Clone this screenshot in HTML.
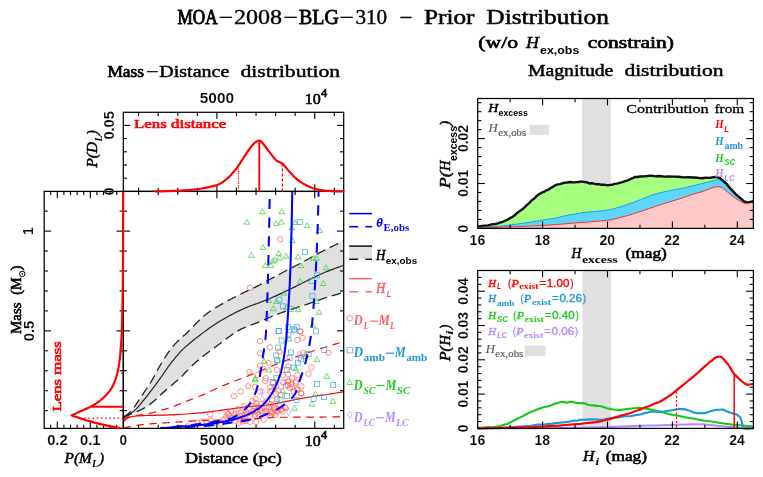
<!DOCTYPE html>
<html><head><meta charset="utf-8"><title>MOA-2008-BLG-310 Prior Distribution</title>
<style>html,body{margin:0;padding:0;background:#fff;}svg{display:block;}text{white-space:pre;}</style></head>
<body><svg width="763" height="477" viewBox="0 0 763 477" style="will-change:transform;opacity:0.9999">
<rect width="763" height="477" fill="#fff"/>
<rect x="582.2" y="98.5" width="28.6" height="129.9" fill="#e0e0e0"/>
<rect x="582.4" y="270.5" width="28.6" height="157.89999999999998" fill="#e0e0e0"/>
<clipPath id="cmp"><rect x="123.3" y="191.4" width="220.4" height="237.0"/></clipPath>
<g clip-path="url(#cmp)">
<path d="M123.50,417.00 L123.94,416.68 L124.55,416.26 L125.26,415.75 L126.06,415.19 L126.88,414.60 L127.69,414.01 L128.44,413.43 L129.10,412.90 L129.65,412.44 L130.13,412.05 L130.57,411.68 L130.99,411.31 L131.42,410.89 L131.88,410.39 L132.40,409.77 L133.00,409.00 L133.69,408.06 L134.44,406.96 L135.25,405.75 L136.09,404.46 L136.95,403.13 L137.81,401.78 L138.67,400.46 L139.50,399.20 L140.31,397.99 L141.12,396.78 L141.94,395.57 L142.75,394.37 L143.56,393.16 L144.38,391.95 L145.19,390.73 L146.00,389.50 L146.82,388.26 L147.65,387.00 L148.49,385.73 L149.33,384.46 L150.15,383.19 L150.96,381.92 L151.74,380.66 L152.50,379.40 L153.20,378.17 L153.85,376.98 L154.47,375.81 L155.07,374.63 L155.68,373.43 L156.33,372.19 L157.03,370.88 L157.80,369.50 L158.66,368.01 L159.57,366.41 L160.54,364.75 L161.54,363.05 L162.57,361.34 L163.59,359.66 L164.61,358.04 L165.60,356.50 L166.57,355.04 L167.52,353.62 L168.48,352.24 L169.43,350.89 L170.39,349.57 L171.37,348.29 L172.37,347.03 L173.40,345.80 L174.49,344.57 L175.66,343.34 L176.87,342.13 L178.09,340.95 L179.27,339.83 L180.39,338.78 L181.41,337.83 L182.30,337.00 L183.01,336.34 L183.57,335.85 L184.01,335.48 L184.40,335.17 L184.77,334.87 L185.18,334.53 L185.68,334.09 L186.30,333.50 L187.04,332.77 L187.84,331.95 L188.69,331.07 L189.59,330.12 L190.54,329.13 L191.53,328.11 L192.55,327.06 L193.60,326.00 L194.69,324.89 L195.84,323.72 L197.04,322.50 L198.27,321.25 L199.52,320.00 L200.78,318.78 L202.05,317.61 L203.30,316.50 L204.54,315.46 L205.78,314.47 L207.03,313.51 L208.28,312.57 L209.55,311.67 L210.84,310.77 L212.15,309.89 L213.50,309.00 L214.89,308.12 L216.33,307.24 L217.81,306.38 L219.30,305.52 L220.79,304.69 L222.27,303.87 L223.71,303.07 L225.10,302.30 L226.44,301.55 L227.74,300.83 L229.01,300.14 L230.27,299.46 L231.51,298.79 L232.76,298.13 L234.02,297.46 L235.30,296.80 L236.59,296.14 L237.86,295.49 L239.14,294.85 L240.43,294.22 L241.72,293.58 L243.05,292.94 L244.40,292.28 L245.80,291.60 L247.24,290.91 L248.71,290.22 L250.22,289.52 L251.74,288.81 L253.29,288.09 L254.85,287.35 L256.43,286.59 L258.00,285.80 L259.59,284.98 L261.19,284.13 L262.82,283.26 L264.45,282.38 L266.09,281.48 L267.73,280.58 L269.37,279.68 L271.00,278.80 L272.59,277.94 L274.14,277.10 L275.66,276.28 L277.19,275.44 L278.77,274.59 L280.41,273.71 L282.14,272.79 L284.00,271.80 L285.98,270.76 L288.06,269.69 L290.22,268.58 L292.45,267.43 L294.75,266.25 L297.09,265.03 L299.48,263.78 L301.90,262.50 L304.38,261.16 L306.94,259.74 L309.56,258.28 L312.22,256.79 L314.90,255.30 L317.59,253.82 L320.26,252.38 L322.90,251.00 L325.65,249.61 L328.60,248.16 L331.63,246.70 L334.61,245.28 L337.43,243.95 L339.97,242.76 L342.10,241.76 L343.70,241.00 L343.70,292.40 L342.23,292.83 L340.25,293.42 L337.89,294.11 L335.29,294.88 L332.56,295.68 L329.85,296.50 L327.29,297.28 L325.00,298.00 L322.93,298.68 L320.94,299.35 L319.02,300.02 L317.14,300.68 L315.32,301.33 L313.52,301.97 L311.75,302.60 L310.00,303.20 L308.28,303.78 L306.61,304.34 L304.98,304.88 L303.38,305.41 L301.79,305.93 L300.20,306.45 L298.61,306.97 L297.00,307.50 L295.38,308.03 L293.75,308.56 L292.12,309.08 L290.50,309.61 L288.88,310.14 L287.25,310.68 L285.62,311.23 L284.00,311.80 L282.36,312.39 L280.70,313.01 L279.04,313.64 L277.38,314.27 L275.73,314.92 L274.11,315.55 L272.53,316.18 L271.00,316.80 L269.51,317.41 L268.03,318.03 L266.58,318.65 L265.17,319.27 L263.80,319.87 L262.47,320.44 L261.20,320.99 L260.00,321.50 L258.88,321.96 L257.86,322.39 L256.90,322.78 L255.99,323.14 L255.09,323.50 L254.20,323.86 L253.27,324.22 L252.30,324.60 L251.28,324.99 L250.22,325.38 L249.15,325.77 L248.08,326.16 L247.00,326.55 L245.94,326.96 L244.90,327.37 L243.90,327.80 L242.93,328.24 L241.99,328.68 L241.07,329.14 L240.16,329.60 L239.27,330.08 L238.38,330.57 L237.49,331.07 L236.60,331.60 L235.72,332.15 L234.85,332.71 L233.98,333.28 L233.12,333.88 L232.26,334.48 L231.39,335.11 L230.51,335.75 L229.60,336.40 L228.66,337.09 L227.67,337.82 L226.66,338.58 L225.65,339.35 L224.65,340.11 L223.68,340.85 L222.76,341.55 L221.90,342.20 L221.15,342.76 L220.51,343.24 L219.94,343.66 L219.38,344.07 L218.80,344.49 L218.16,344.97 L217.41,345.53 L216.50,346.20 L215.42,347.00 L214.21,347.89 L212.90,348.85 L211.51,349.88 L210.09,350.93 L208.66,352.00 L207.25,353.06 L205.90,354.10 L204.59,355.11 L203.29,356.12 L201.99,357.13 L200.69,358.15 L199.39,359.19 L198.10,360.25 L196.80,361.36 L195.50,362.50 L194.16,363.74 L192.75,365.08 L191.32,366.49 L189.90,367.91 L188.53,369.29 L187.25,370.60 L186.09,371.79 L185.10,372.80 L184.33,373.60 L183.77,374.21 L183.36,374.70 L183.02,375.11 L182.69,375.49 L182.31,375.92 L181.80,376.44 L181.10,377.10 L180.21,377.91 L179.18,378.80 L178.06,379.77 L176.87,380.78 L175.64,381.82 L174.39,382.87 L173.17,383.90 L172.00,384.90 L170.86,385.87 L169.72,386.83 L168.59,387.79 L167.45,388.76 L166.31,389.72 L165.18,390.70 L164.04,391.69 L162.90,392.70 L161.75,393.75 L160.59,394.84 L159.43,395.95 L158.27,397.07 L157.12,398.18 L155.98,399.25 L154.88,400.26 L153.80,401.20 L152.77,402.06 L151.79,402.87 L150.84,403.63 L149.90,404.34 L148.96,405.03 L148.01,405.70 L147.03,406.35 L146.00,407.00 L144.91,407.65 L143.76,408.28 L142.57,408.90 L141.37,409.50 L140.18,410.07 L139.02,410.62 L137.92,411.13 L136.90,411.60 L135.97,412.02 L135.10,412.37 L134.29,412.69 L133.51,412.97 L132.75,413.25 L131.99,413.54 L131.21,413.85 L130.40,414.20 L129.51,414.61 L128.54,415.07 L127.54,415.57 L126.54,416.06 L125.60,416.54 L124.75,416.97 L124.04,417.33 L123.50,417.60Z" fill="#e0e0e0" stroke="none" stroke-width="1.3" stroke-linejoin="round" stroke-linecap="butt" />
<path d="M123.50,417.00 L123.94,416.68 L124.55,416.26 L125.26,415.75 L126.06,415.19 L126.88,414.60 L127.69,414.01 L128.44,413.43 L129.10,412.90 L129.65,412.44 L130.13,412.05 L130.57,411.68 L130.99,411.31 L131.42,410.89 L131.88,410.39 L132.40,409.77 L133.00,409.00 L133.69,408.06 L134.44,406.96 L135.25,405.75 L136.09,404.46 L136.95,403.13 L137.81,401.78 L138.67,400.46 L139.50,399.20 L140.31,397.99 L141.12,396.78 L141.94,395.57 L142.75,394.37 L143.56,393.16 L144.38,391.95 L145.19,390.73 L146.00,389.50 L146.82,388.26 L147.65,387.00 L148.49,385.73 L149.33,384.46 L150.15,383.19 L150.96,381.92 L151.74,380.66 L152.50,379.40 L153.20,378.17 L153.85,376.98 L154.47,375.81 L155.07,374.63 L155.68,373.43 L156.33,372.19 L157.03,370.88 L157.80,369.50 L158.66,368.01 L159.57,366.41 L160.54,364.75 L161.54,363.05 L162.57,361.34 L163.59,359.66 L164.61,358.04 L165.60,356.50 L166.57,355.04 L167.52,353.62 L168.48,352.24 L169.43,350.89 L170.39,349.57 L171.37,348.29 L172.37,347.03 L173.40,345.80 L174.49,344.57 L175.66,343.34 L176.87,342.13 L178.09,340.95 L179.27,339.83 L180.39,338.78 L181.41,337.83 L182.30,337.00 L183.01,336.34 L183.57,335.85 L184.01,335.48 L184.40,335.17 L184.77,334.87 L185.18,334.53 L185.68,334.09 L186.30,333.50 L187.04,332.77 L187.84,331.95 L188.69,331.07 L189.59,330.12 L190.54,329.13 L191.53,328.11 L192.55,327.06 L193.60,326.00 L194.69,324.89 L195.84,323.72 L197.04,322.50 L198.27,321.25 L199.52,320.00 L200.78,318.78 L202.05,317.61 L203.30,316.50 L204.54,315.46 L205.78,314.47 L207.03,313.51 L208.28,312.57 L209.55,311.67 L210.84,310.77 L212.15,309.89 L213.50,309.00 L214.89,308.12 L216.33,307.24 L217.81,306.38 L219.30,305.52 L220.79,304.69 L222.27,303.87 L223.71,303.07 L225.10,302.30 L226.44,301.55 L227.74,300.83 L229.01,300.14 L230.27,299.46 L231.51,298.79 L232.76,298.13 L234.02,297.46 L235.30,296.80 L236.59,296.14 L237.86,295.49 L239.14,294.85 L240.43,294.22 L241.72,293.58 L243.05,292.94 L244.40,292.28 L245.80,291.60 L247.24,290.91 L248.71,290.22 L250.22,289.52 L251.74,288.81 L253.29,288.09 L254.85,287.35 L256.43,286.59 L258.00,285.80 L259.59,284.98 L261.19,284.13 L262.82,283.26 L264.45,282.38 L266.09,281.48 L267.73,280.58 L269.37,279.68 L271.00,278.80 L272.59,277.94 L274.14,277.10 L275.66,276.28 L277.19,275.44 L278.77,274.59 L280.41,273.71 L282.14,272.79 L284.00,271.80 L285.98,270.76 L288.06,269.69 L290.22,268.58 L292.45,267.43 L294.75,266.25 L297.09,265.03 L299.48,263.78 L301.90,262.50 L304.38,261.16 L306.94,259.74 L309.56,258.28 L312.22,256.79 L314.90,255.30 L317.59,253.82 L320.26,252.38 L322.90,251.00 L325.65,249.61 L328.60,248.16 L331.63,246.70 L334.61,245.28 L337.43,243.95 L339.97,242.76 L342.10,241.76 L343.70,241.00" fill="none" stroke="#222" stroke-width="1.3" stroke-linejoin="round" stroke-linecap="butt" stroke-dasharray="9.4 5" />
<path d="M123.50,417.60 L124.04,417.33 L124.75,416.97 L125.60,416.54 L126.54,416.06 L127.54,415.57 L128.54,415.07 L129.51,414.61 L130.40,414.20 L131.21,413.85 L131.99,413.54 L132.75,413.25 L133.51,412.97 L134.29,412.69 L135.10,412.37 L135.97,412.02 L136.90,411.60 L137.92,411.13 L139.02,410.62 L140.18,410.07 L141.37,409.50 L142.57,408.90 L143.76,408.28 L144.91,407.65 L146.00,407.00 L147.03,406.35 L148.01,405.70 L148.96,405.03 L149.90,404.34 L150.84,403.63 L151.79,402.87 L152.77,402.06 L153.80,401.20 L154.88,400.26 L155.98,399.25 L157.12,398.18 L158.27,397.07 L159.43,395.95 L160.59,394.84 L161.75,393.75 L162.90,392.70 L164.04,391.69 L165.18,390.70 L166.31,389.72 L167.45,388.76 L168.59,387.79 L169.72,386.83 L170.86,385.87 L172.00,384.90 L173.17,383.90 L174.39,382.87 L175.64,381.82 L176.87,380.78 L178.06,379.77 L179.18,378.80 L180.21,377.91 L181.10,377.10 L181.80,376.44 L182.31,375.92 L182.69,375.49 L183.02,375.11 L183.36,374.70 L183.77,374.21 L184.33,373.60 L185.10,372.80 L186.09,371.79 L187.25,370.60 L188.53,369.29 L189.90,367.91 L191.32,366.49 L192.75,365.08 L194.16,363.74 L195.50,362.50 L196.80,361.36 L198.10,360.25 L199.39,359.19 L200.69,358.15 L201.99,357.13 L203.29,356.12 L204.59,355.11 L205.90,354.10 L207.25,353.06 L208.66,352.00 L210.09,350.93 L211.51,349.88 L212.90,348.85 L214.21,347.89 L215.42,347.00 L216.50,346.20 L217.41,345.53 L218.16,344.97 L218.80,344.49 L219.38,344.07 L219.94,343.66 L220.51,343.24 L221.15,342.76 L221.90,342.20 L222.76,341.55 L223.68,340.85 L224.65,340.11 L225.65,339.35 L226.66,338.58 L227.67,337.82 L228.66,337.09 L229.60,336.40 L230.51,335.75 L231.39,335.11 L232.26,334.48 L233.12,333.88 L233.98,333.28 L234.85,332.71 L235.72,332.15 L236.60,331.60 L237.49,331.07 L238.38,330.57 L239.27,330.08 L240.16,329.60 L241.07,329.14 L241.99,328.68 L242.93,328.24 L243.90,327.80 L244.90,327.37 L245.94,326.96 L247.00,326.55 L248.08,326.16 L249.15,325.77 L250.22,325.38 L251.28,324.99 L252.30,324.60 L253.27,324.22 L254.20,323.86 L255.09,323.50 L255.99,323.14 L256.90,322.78 L257.86,322.39 L258.88,321.96 L260.00,321.50 L261.20,320.99 L262.47,320.44 L263.80,319.87 L265.17,319.27 L266.58,318.65 L268.03,318.03 L269.51,317.41 L271.00,316.80 L272.53,316.18 L274.11,315.55 L275.73,314.92 L277.38,314.27 L279.04,313.64 L280.70,313.01 L282.36,312.39 L284.00,311.80 L285.62,311.23 L287.25,310.68 L288.88,310.14 L290.50,309.61 L292.12,309.08 L293.75,308.56 L295.38,308.03 L297.00,307.50 L298.61,306.97 L300.20,306.45 L301.79,305.93 L303.38,305.41 L304.98,304.88 L306.61,304.34 L308.28,303.78 L310.00,303.20 L311.75,302.60 L313.52,301.97 L315.32,301.33 L317.14,300.68 L319.02,300.02 L320.94,299.35 L322.93,298.68 L325.00,298.00 L327.29,297.28 L329.85,296.50 L332.56,295.68 L335.29,294.88 L337.89,294.11 L340.25,293.42 L342.23,292.83 L343.70,292.40" fill="none" stroke="#222" stroke-width="1.3" stroke-linejoin="round" stroke-linecap="butt" stroke-dasharray="9.4 5" />
<path d="M123.50,417.40 L123.93,417.16 L124.49,416.86 L125.15,416.50 L125.89,416.09 L126.69,415.64 L127.51,415.17 L128.32,414.69 L129.10,414.20 L129.86,413.72 L130.63,413.25 L131.41,412.78 L132.21,412.27 L133.03,411.72 L133.86,411.10 L134.72,410.40 L135.60,409.60 L136.51,408.68 L137.46,407.66 L138.43,406.55 L139.42,405.38 L140.42,404.17 L141.42,402.94 L142.42,401.71 L143.40,400.50 L144.37,399.32 L145.32,398.14 L146.26,396.96 L147.21,395.76 L148.17,394.54 L149.15,393.28 L150.16,391.97 L151.20,390.60 L152.28,389.17 L153.40,387.67 L154.55,386.12 L155.72,384.54 L156.90,382.94 L158.07,381.32 L159.25,379.70 L160.40,378.10 L161.53,376.50 L162.65,374.88 L163.76,373.25 L164.88,371.62 L166.00,369.98 L167.14,368.35 L168.30,366.72 L169.50,365.10 L170.76,363.45 L172.09,361.74 L173.45,360.02 L174.83,358.31 L176.18,356.64 L177.50,355.07 L178.75,353.61 L179.90,352.30 L180.93,351.17 L181.87,350.21 L182.73,349.36 L183.56,348.60 L184.37,347.88 L185.19,347.17 L186.06,346.42 L187.00,345.60 L188.00,344.73 L189.02,343.85 L190.07,342.97 L191.14,342.08 L192.24,341.18 L193.36,340.27 L194.52,339.34 L195.70,338.40 L196.93,337.43 L198.20,336.44 L199.51,335.42 L200.84,334.40 L202.18,333.38 L203.53,332.36 L204.88,331.37 L206.20,330.40 L207.51,329.45 L208.82,328.52 L210.14,327.60 L211.45,326.69 L212.76,325.79 L214.07,324.91 L215.39,324.05 L216.70,323.20 L218.01,322.37 L219.32,321.56 L220.64,320.77 L221.95,319.99 L223.26,319.23 L224.57,318.48 L225.89,317.73 L227.20,317.00 L228.51,316.27 L229.83,315.56 L231.14,314.85 L232.46,314.16 L233.77,313.47 L235.08,312.80 L236.39,312.14 L237.70,311.50 L239.01,310.87 L240.32,310.24 L241.63,309.63 L242.94,309.03 L244.24,308.45 L245.54,307.88 L246.82,307.33 L248.10,306.80 L249.34,306.31 L250.54,305.86 L251.71,305.44 L252.89,305.03 L254.08,304.62 L255.32,304.19 L256.62,303.72 L258.00,303.20 L259.48,302.63 L261.03,302.03 L262.65,301.40 L264.31,300.74 L265.99,300.07 L267.68,299.39 L269.35,298.69 L271.00,298.00 L272.62,297.30 L274.25,296.58 L275.88,295.86 L277.50,295.12 L279.12,294.37 L280.75,293.62 L282.38,292.86 L284.00,292.10 L285.62,291.33 L287.25,290.56 L288.88,289.78 L290.50,288.99 L292.12,288.19 L293.75,287.40 L295.38,286.60 L297.00,285.80 L298.61,285.00 L300.20,284.20 L301.79,283.40 L303.38,282.59 L304.98,281.78 L306.61,280.96 L308.28,280.14 L310.00,279.30 L311.75,278.45 L313.52,277.59 L315.32,276.72 L317.14,275.84 L319.02,274.95 L320.94,274.07 L322.93,273.18 L325.00,272.30 L327.29,271.37 L329.85,270.37 L332.56,269.33 L335.29,268.31 L337.89,267.35 L340.25,266.48 L342.23,265.75 L343.70,265.20" fill="none" stroke="#222" stroke-width="1.2" stroke-linejoin="round" stroke-linecap="butt" />
<path d="M123.50,419.60 L123.81,419.41 L124.19,419.15 L124.64,418.85 L125.16,418.51 L125.74,418.15 L126.38,417.81 L127.07,417.48 L127.80,417.20 L128.59,416.95 L129.44,416.72 L130.35,416.49 L131.32,416.28 L132.33,416.08 L133.39,415.88 L134.48,415.69 L135.60,415.50 L136.76,415.33 L137.96,415.19 L139.20,415.07 L140.48,414.95 L141.80,414.82 L143.16,414.66 L144.56,414.46 L146.00,414.20 L147.50,413.89 L149.07,413.53 L150.68,413.14 L152.34,412.71 L154.01,412.27 L155.69,411.81 L157.36,411.35 L159.00,410.90 L160.62,410.45 L162.25,410.00 L163.88,409.54 L165.50,409.07 L167.12,408.58 L168.75,408.08 L170.38,407.55 L172.00,407.00 L173.61,406.42 L175.20,405.81 L176.79,405.17 L178.38,404.52 L179.98,403.85 L181.61,403.17 L183.28,402.49 L185.00,401.80 L186.71,401.14 L188.38,400.52 L190.05,399.90 L191.76,399.27 L193.57,398.59 L195.51,397.84 L197.64,396.98 L200.00,396.00 L202.62,394.86 L205.48,393.57 L208.52,392.18 L211.70,390.72 L214.97,389.22 L218.27,387.73 L221.57,386.28 L224.80,384.90 L228.04,383.58 L231.38,382.27 L234.76,380.98 L238.14,379.71 L241.50,378.45 L244.79,377.21 L247.97,375.99 L251.00,374.80 L253.87,373.63 L256.60,372.49 L259.22,371.37 L261.77,370.27 L264.29,369.18 L266.79,368.11 L269.32,367.05 L271.90,366.00 L274.52,364.96 L277.14,363.93 L279.77,362.91 L282.39,361.91 L285.02,360.91 L287.65,359.93 L290.27,358.96 L292.90,358.00 L295.46,357.07 L297.94,356.17 L300.39,355.29 L302.85,354.42 L305.38,353.55 L308.03,352.64 L310.85,351.70 L313.90,350.70 L317.41,349.58 L321.43,348.32 L325.74,346.98 L330.11,345.64 L334.32,344.36 L338.14,343.20 L341.34,342.22 L343.70,341.50" fill="none" stroke="#ff0000" stroke-width="1.2" stroke-linejoin="round" stroke-linecap="butt" stroke-dasharray="7.5 5.6" />
<path d="M123.50,428.20 L123.75,428.13 L124.07,428.05 L124.45,427.95 L124.88,427.84 L125.35,427.71 L125.87,427.58 L126.42,427.44 L127.00,427.30 L127.58,427.15 L128.16,426.99 L128.76,426.82 L129.41,426.65 L130.13,426.47 L130.95,426.28 L131.90,426.09 L133.00,425.90 L134.29,425.70 L135.76,425.48 L137.36,425.25 L139.06,425.02 L140.82,424.79 L142.59,424.58 L144.33,424.38 L146.00,424.20 L147.62,424.05 L149.25,423.92 L150.88,423.80 L152.50,423.70 L154.12,423.60 L155.75,423.51 L157.38,423.41 L159.00,423.30 L160.62,423.19 L162.25,423.07 L163.88,422.96 L165.50,422.84 L167.12,422.73 L168.75,422.62 L170.38,422.51 L172.00,422.40 L173.61,422.30 L175.20,422.20 L176.79,422.11 L178.38,422.01 L179.98,421.92 L181.61,421.82 L183.28,421.71 L185.00,421.60 L186.71,421.47 L188.38,421.33 L190.05,421.19 L191.76,421.04 L193.57,420.89 L195.51,420.75 L197.64,420.62 L200.00,420.50 L202.62,420.40 L205.48,420.32 L208.52,420.26 L211.70,420.19 L214.97,420.13 L218.27,420.07 L221.57,419.99 L224.80,419.90 L228.04,419.80 L231.38,419.69 L234.76,419.57 L238.14,419.45 L241.50,419.32 L244.79,419.19 L247.97,419.05 L251.00,418.90 L253.87,418.74 L256.60,418.55 L259.22,418.36 L261.77,418.16 L264.29,417.96 L266.79,417.78 L269.32,417.63 L271.90,417.50 L274.52,417.41 L277.14,417.34 L279.77,417.30 L282.39,417.27 L285.02,417.25 L287.65,417.24 L290.27,417.22 L292.90,417.20 L295.46,417.18 L297.94,417.16 L300.39,417.15 L302.85,417.14 L305.38,417.14 L308.03,417.13 L310.85,417.12 L313.90,417.10 L317.41,417.08 L321.43,417.05 L325.74,417.02 L330.11,416.99 L334.32,416.96 L338.14,416.94 L341.34,416.92 L343.70,416.90" fill="none" stroke="#ff0000" stroke-width="1.2" stroke-linejoin="round" stroke-linecap="butt" stroke-dasharray="7.5 5.6" />
<path d="M123.50,422.00 L123.65,421.83 L123.85,421.59 L124.09,421.31 L124.36,421.01 L124.64,420.69 L124.93,420.37 L125.22,420.07 L125.50,419.80 L125.75,419.56 L125.99,419.34 L126.21,419.13 L126.45,418.92 L126.71,418.72 L127.01,418.51 L127.37,418.31 L127.80,418.10 L128.26,417.88 L128.71,417.66 L129.19,417.43 L129.73,417.20 L130.35,416.98 L131.08,416.77 L131.96,416.57 L133.00,416.40 L134.16,416.25 L135.40,416.11 L136.73,416.00 L138.20,415.89 L139.83,415.79 L141.65,415.69 L143.70,415.60 L146.00,415.50 L148.61,415.41 L151.54,415.34 L154.71,415.28 L158.06,415.21 L161.53,415.14 L165.05,415.05 L168.57,414.94 L172.00,414.80 L175.43,414.63 L178.93,414.44 L182.49,414.23 L186.08,414.00 L189.65,413.75 L193.18,413.49 L196.64,413.20 L200.00,412.90 L203.28,412.57 L206.51,412.20 L209.70,411.82 L212.84,411.41 L215.92,411.00 L218.94,410.59 L221.90,410.19 L224.80,409.80 L227.58,409.42 L230.24,409.05 L232.81,408.67 L235.34,408.30 L237.86,407.93 L240.41,407.58 L243.05,407.23 L245.80,406.90 L248.66,406.60 L251.58,406.35 L254.55,406.12 L257.58,405.89 L260.64,405.65 L263.73,405.36 L266.86,405.02 L270.00,404.60 L273.23,404.08 L276.58,403.46 L280.00,402.77 L283.43,402.06 L286.82,401.33 L290.12,400.63 L293.26,399.97 L296.20,399.40 L298.85,398.91 L301.21,398.49 L303.40,398.10 L305.50,397.74 L307.62,397.39 L309.86,397.03 L312.32,396.64 L315.10,396.20 L318.41,395.69 L322.24,395.10 L326.37,394.48 L330.58,393.85 L334.64,393.25 L338.33,392.70 L341.43,392.24 L343.70,391.90" fill="none" stroke="#ff0000" stroke-width="1.2" stroke-linejoin="round" stroke-linecap="butt" />
</g>
<g clip-path="url(#cmp)">
<path d="M262.5,208.8 L265.3,213.7 L259.6,213.7Z" fill="none" stroke="#2fce2f" stroke-width="0.7"/>
<path d="M281.8,208.8 L284.6,213.7 L278.9,213.7Z" fill="none" stroke="#2fce2f" stroke-width="0.7"/>
<path d="M246.8,219.3 L249.6,224.2 L243.9,224.2Z" fill="none" stroke="#2fce2f" stroke-width="0.7"/>
<path d="M276.1,220.8 L279.0,225.6 L273.3,225.6Z" fill="none" stroke="#2fce2f" stroke-width="0.7"/>
<path d="M281.4,219.3 L284.2,224.2 L278.5,224.2Z" fill="none" stroke="#2fce2f" stroke-width="0.7"/>
<path d="M295.0,219.7 L297.8,224.6 L292.1,224.6Z" fill="none" stroke="#2fce2f" stroke-width="0.7"/>
<path d="M291.8,225.0 L294.7,229.8 L289.0,229.8Z" fill="none" stroke="#2fce2f" stroke-width="0.7"/>
<path d="M307.1,222.9 L310.0,227.7 L304.3,227.7Z" fill="none" stroke="#2fce2f" stroke-width="0.7"/>
<path d="M319.7,227.7 L322.6,232.6 L316.9,232.6Z" fill="none" stroke="#2fce2f" stroke-width="0.7"/>
<path d="M262.9,244.6 L265.8,249.4 L260.1,249.4Z" fill="none" stroke="#2fce2f" stroke-width="0.7"/>
<path d="M292.3,237.9 L295.1,242.7 L289.4,242.7Z" fill="none" stroke="#2fce2f" stroke-width="0.7"/>
<path d="M251.4,252.5 L254.2,257.4 L248.5,257.4Z" fill="none" stroke="#2fce2f" stroke-width="0.7"/>
<path d="M278.6,250.4 L281.5,255.3 L275.8,255.3Z" fill="none" stroke="#2fce2f" stroke-width="0.7"/>
<path d="M273.0,258.2 L275.8,263.1 L270.1,263.1Z" fill="none" stroke="#2fce2f" stroke-width="0.7"/>
<path d="M275.1,257.2 L277.9,262.0 L272.2,262.0Z" fill="none" stroke="#2fce2f" stroke-width="0.7"/>
<path d="M279.7,255.1 L282.5,259.9 L276.8,259.9Z" fill="none" stroke="#2fce2f" stroke-width="0.7"/>
<path d="M286.0,253.4 L288.8,258.2 L283.1,258.2Z" fill="none" stroke="#2fce2f" stroke-width="0.7"/>
<path d="M298.1,254.0 L301.0,258.9 L295.3,258.9Z" fill="none" stroke="#2fce2f" stroke-width="0.7"/>
<path d="M313.4,255.5 L316.3,260.3 L310.6,260.3Z" fill="none" stroke="#2fce2f" stroke-width="0.7"/>
<path d="M316.4,255.5 L319.2,260.3 L313.5,260.3Z" fill="none" stroke="#2fce2f" stroke-width="0.7"/>
<path d="M265.2,262.8 L268.1,267.7 L262.4,267.7Z" fill="none" stroke="#2fce2f" stroke-width="0.7"/>
<path d="M270.9,262.8 L273.7,267.7 L268.0,267.7Z" fill="none" stroke="#2fce2f" stroke-width="0.7"/>
<path d="M300.9,262.8 L303.7,267.7 L298.0,267.7Z" fill="none" stroke="#2fce2f" stroke-width="0.7"/>
<path d="M326.0,264.9 L328.9,269.8 L323.2,269.8Z" fill="none" stroke="#2fce2f" stroke-width="0.7"/>
<path d="M300.2,278.5 L303.1,283.4 L297.4,283.4Z" fill="none" stroke="#2fce2f" stroke-width="0.7"/>
<path d="M323.3,280.6 L326.1,285.5 L320.4,285.5Z" fill="none" stroke="#2fce2f" stroke-width="0.7"/>
<path d="M284.1,290.3 L286.9,295.1 L281.2,295.1Z" fill="none" stroke="#2fce2f" stroke-width="0.7"/>
<path d="M268.8,297.4 L271.6,302.3 L265.9,302.3Z" fill="none" stroke="#2fce2f" stroke-width="0.7"/>
<path d="M276.5,298.7 L279.4,303.5 L273.7,303.5Z" fill="none" stroke="#2fce2f" stroke-width="0.7"/>
<path d="M273.4,305.8 L276.2,310.7 L270.5,310.7Z" fill="none" stroke="#2fce2f" stroke-width="0.7"/>
<path d="M286.6,304.3 L289.5,309.2 L283.8,309.2Z" fill="none" stroke="#2fce2f" stroke-width="0.7"/>
<path d="M298.1,306.8 L301.0,311.7 L295.3,311.7Z" fill="none" stroke="#2fce2f" stroke-width="0.7"/>
<path d="M316.6,298.7 L319.4,303.5 L313.7,303.5Z" fill="none" stroke="#2fce2f" stroke-width="0.7"/>
<path d="M319.1,309.6 L321.9,314.4 L316.2,314.4Z" fill="none" stroke="#2fce2f" stroke-width="0.7"/>
<path d="M312.8,322.6 L315.7,327.4 L310.0,327.4Z" fill="none" stroke="#2fce2f" stroke-width="0.7"/>
<path d="M305.5,351.9 L308.3,356.8 L302.6,356.8Z" fill="none" stroke="#2fce2f" stroke-width="0.7"/>
<path d="M317.0,356.7 L319.9,361.6 L314.2,361.6Z" fill="none" stroke="#2fce2f" stroke-width="0.7"/>
<path d="M326.9,373.5 L329.7,378.4 L324.0,378.4Z" fill="none" stroke="#2fce2f" stroke-width="0.7"/>
<path d="M289.2,336.2 L292.0,341.1 L286.3,341.1Z" fill="none" stroke="#2fce2f" stroke-width="0.7"/>
<path d="M264.3,358.4 L267.2,363.3 L261.5,363.3Z" fill="none" stroke="#2fce2f" stroke-width="0.7"/>
<path d="M277.9,357.4 L280.8,362.3 L275.1,362.3Z" fill="none" stroke="#2fce2f" stroke-width="0.7"/>
<path d="M269.0,367.1 L271.9,372.0 L266.2,372.0Z" fill="none" stroke="#2fce2f" stroke-width="0.7"/>
<path d="M295.8,366.0 L298.6,370.9 L292.9,370.9Z" fill="none" stroke="#2fce2f" stroke-width="0.7"/>
<path d="M255.4,375.7 L258.2,380.6 L252.5,380.6Z" fill="none" stroke="#2fce2f" stroke-width="0.7"/>
<path d="M304.1,353.7 L307.0,358.6 L301.3,358.6Z" fill="none" stroke="#2fce2f" stroke-width="0.7"/>
<path d="M282.8,388.0 L285.6,392.9 L279.9,392.9Z" fill="none" stroke="#2fce2f" stroke-width="0.7"/>
<path d="M315.6,391.2 L318.4,396.0 L312.7,396.0Z" fill="none" stroke="#2fce2f" stroke-width="0.7"/>
<path d="M311.9,401.1 L314.8,406.0 L309.1,406.0Z" fill="none" stroke="#2fce2f" stroke-width="0.7"/>
<path d="M332.9,398.5 L335.7,403.3 L330.0,403.3Z" fill="none" stroke="#2fce2f" stroke-width="0.7"/>
<path d="M294.3,405.3 L297.2,410.2 L291.5,410.2Z" fill="none" stroke="#2fce2f" stroke-width="0.7"/>
<path d="M254.9,377.0 L257.7,381.9 L252.0,381.9Z" fill="none" stroke="#2fce2f" stroke-width="0.7"/>
<rect x="297.1" y="219.6" width="5.0" height="5.0" fill="none" stroke="#3aa6da" stroke-width="0.7"/>
<rect x="302.3" y="249.3" width="5.0" height="5.0" fill="none" stroke="#3aa6da" stroke-width="0.7"/>
<rect x="314.5" y="272.8" width="5.0" height="5.0" fill="none" stroke="#3aa6da" stroke-width="0.7"/>
<rect x="309.3" y="278.6" width="5.0" height="5.0" fill="none" stroke="#3aa6da" stroke-width="0.7"/>
<rect x="309.9" y="293.3" width="5.0" height="5.0" fill="none" stroke="#3aa6da" stroke-width="0.7"/>
<rect x="276.8" y="297.1" width="5.0" height="5.0" fill="none" stroke="#3aa6da" stroke-width="0.7"/>
<rect x="280.3" y="303.8" width="5.0" height="5.0" fill="none" stroke="#3aa6da" stroke-width="0.7"/>
<rect x="288.3" y="306.5" width="5.0" height="5.0" fill="none" stroke="#3aa6da" stroke-width="0.7"/>
<rect x="285.2" y="324.7" width="5.0" height="5.0" fill="none" stroke="#3aa6da" stroke-width="0.7"/>
<rect x="294.2" y="324.7" width="5.0" height="5.0" fill="none" stroke="#3aa6da" stroke-width="0.7"/>
<rect x="291.4" y="326.8" width="5.0" height="5.0" fill="none" stroke="#3aa6da" stroke-width="0.7"/>
<rect x="276.1" y="328.5" width="5.0" height="5.0" fill="none" stroke="#3aa6da" stroke-width="0.7"/>
<rect x="313.5" y="328.9" width="5.0" height="5.0" fill="none" stroke="#3aa6da" stroke-width="0.7"/>
<rect x="306.1" y="351.4" width="5.0" height="5.0" fill="none" stroke="#3aa6da" stroke-width="0.7"/>
<rect x="321.8" y="347.6" width="5.0" height="5.0" fill="none" stroke="#3aa6da" stroke-width="0.7"/>
<rect x="276.2" y="328.5" width="5.0" height="5.0" fill="none" stroke="#3aa6da" stroke-width="0.7"/>
<rect x="279.1" y="338.0" width="5.0" height="5.0" fill="none" stroke="#3aa6da" stroke-width="0.7"/>
<rect x="275.7" y="345.1" width="5.0" height="5.0" fill="none" stroke="#3aa6da" stroke-width="0.7"/>
<rect x="273.7" y="353.0" width="5.0" height="5.0" fill="none" stroke="#3aa6da" stroke-width="0.7"/>
<rect x="274.7" y="357.9" width="5.0" height="5.0" fill="none" stroke="#3aa6da" stroke-width="0.7"/>
<rect x="288.5" y="350.0" width="5.0" height="5.0" fill="none" stroke="#3aa6da" stroke-width="0.7"/>
<rect x="287.0" y="355.3" width="5.0" height="5.0" fill="none" stroke="#3aa6da" stroke-width="0.7"/>
<rect x="284.3" y="367.5" width="5.0" height="5.0" fill="none" stroke="#3aa6da" stroke-width="0.7"/>
<rect x="295.4" y="360.2" width="5.0" height="5.0" fill="none" stroke="#3aa6da" stroke-width="0.7"/>
<rect x="291.2" y="365.0" width="5.0" height="5.0" fill="none" stroke="#3aa6da" stroke-width="0.7"/>
<rect x="298.5" y="356.9" width="5.0" height="5.0" fill="none" stroke="#3aa6da" stroke-width="0.7"/>
<rect x="285.9" y="332.2" width="5.0" height="5.0" fill="none" stroke="#3aa6da" stroke-width="0.7"/>
<rect x="292.2" y="328.0" width="5.0" height="5.0" fill="none" stroke="#3aa6da" stroke-width="0.7"/>
<rect x="273.9" y="375.7" width="5.0" height="5.0" fill="none" stroke="#3aa6da" stroke-width="0.7"/>
<rect x="314.5" y="381.5" width="5.0" height="5.0" fill="none" stroke="#3aa6da" stroke-width="0.7"/>
<rect x="330.7" y="382.7" width="5.0" height="5.0" fill="none" stroke="#3aa6da" stroke-width="0.7"/>
<rect x="311.0" y="396.6" width="5.0" height="5.0" fill="none" stroke="#3aa6da" stroke-width="0.7"/>
<rect x="321.5" y="394.5" width="5.0" height="5.0" fill="none" stroke="#3aa6da" stroke-width="0.7"/>
<rect x="294.0" y="397.4" width="5.0" height="5.0" fill="none" stroke="#3aa6da" stroke-width="0.7"/>
<rect x="284.3" y="393.7" width="5.0" height="5.0" fill="none" stroke="#3aa6da" stroke-width="0.7"/>
<rect x="274.8" y="396.4" width="5.0" height="5.0" fill="none" stroke="#3aa6da" stroke-width="0.7"/>
<rect x="278.0" y="397.4" width="5.0" height="5.0" fill="none" stroke="#3aa6da" stroke-width="0.7"/>
<rect x="270.2" y="379.6" width="5.0" height="5.0" fill="none" stroke="#3aa6da" stroke-width="0.7"/>
<path d="M268.8,314.8 L270.9,318.4 L268.8,322.0 L266.6,318.4Z" fill="none" stroke="#b79cff" stroke-width="0.7"/>
<path d="M299.2,350.7 L301.4,354.3 L299.2,357.9 L297.1,354.3Z" fill="none" stroke="#b79cff" stroke-width="0.7"/>
<path d="M299.9,354.2 L302.1,357.8 L299.9,361.4 L297.8,357.8Z" fill="none" stroke="#b79cff" stroke-width="0.7"/>
<path d="M283.6,379.0 L285.8,382.6 L283.6,386.2 L281.5,382.6Z" fill="none" stroke="#b79cff" stroke-width="0.7"/>
<path d="M288.7,408.4 L290.8,412.0 L288.7,415.6 L286.5,412.0Z" fill="none" stroke="#b79cff" stroke-width="0.7"/>
<path d="M262.2,387.9 L264.4,391.5 L262.2,395.1 L260.1,391.5Z" fill="none" stroke="#b79cff" stroke-width="0.7"/>
<path d="M262.2,395.3 L264.4,398.9 L262.2,402.5 L260.1,398.9Z" fill="none" stroke="#b79cff" stroke-width="0.7"/>
<circle cx="280.3" cy="239.2" r="2.7" fill="none" stroke="#ff6262" stroke-width="0.7"/>
<circle cx="249.9" cy="287.8" r="2.7" fill="none" stroke="#ff6262" stroke-width="0.7"/>
<circle cx="300.2" cy="331.4" r="2.7" fill="none" stroke="#ff6262" stroke-width="0.7"/>
<circle cx="328.5" cy="352.8" r="2.7" fill="none" stroke="#ff6262" stroke-width="0.7"/>
<circle cx="308.6" cy="373.8" r="2.7" fill="none" stroke="#ff6262" stroke-width="0.7"/>
<circle cx="260.1" cy="341.0" r="2.7" fill="none" stroke="#ff6262" stroke-width="0.7"/>
<circle cx="269.9" cy="347.3" r="2.7" fill="none" stroke="#ff6262" stroke-width="0.7"/>
<circle cx="260.1" cy="353.3" r="2.7" fill="none" stroke="#ff6262" stroke-width="0.7"/>
<circle cx="279.5" cy="351.5" r="2.7" fill="none" stroke="#ff6262" stroke-width="0.7"/>
<circle cx="260.1" cy="365.6" r="2.7" fill="none" stroke="#ff6262" stroke-width="0.7"/>
<circle cx="249.3" cy="371.9" r="2.7" fill="none" stroke="#ff6262" stroke-width="0.7"/>
<circle cx="268.5" cy="363.0" r="2.7" fill="none" stroke="#ff6262" stroke-width="0.7"/>
<circle cx="263.8" cy="368.8" r="2.7" fill="none" stroke="#ff6262" stroke-width="0.7"/>
<circle cx="276.9" cy="369.8" r="2.7" fill="none" stroke="#ff6262" stroke-width="0.7"/>
<circle cx="257.5" cy="375.1" r="2.7" fill="none" stroke="#ff6262" stroke-width="0.7"/>
<circle cx="265.9" cy="378.2" r="2.7" fill="none" stroke="#ff6262" stroke-width="0.7"/>
<circle cx="297.3" cy="340.0" r="2.7" fill="none" stroke="#ff6262" stroke-width="0.7"/>
<circle cx="302.6" cy="337.9" r="2.7" fill="none" stroke="#ff6262" stroke-width="0.7"/>
<circle cx="300.5" cy="331.6" r="2.7" fill="none" stroke="#ff6262" stroke-width="0.7"/>
<circle cx="288.4" cy="366.7" r="2.7" fill="none" stroke="#ff6262" stroke-width="0.7"/>
<circle cx="287.9" cy="374.0" r="2.7" fill="none" stroke="#ff6262" stroke-width="0.7"/>
<circle cx="282.7" cy="375.1" r="2.7" fill="none" stroke="#ff6262" stroke-width="0.7"/>
<circle cx="297.3" cy="375.1" r="2.7" fill="none" stroke="#ff6262" stroke-width="0.7"/>
<circle cx="303.6" cy="353.1" r="2.7" fill="none" stroke="#ff6262" stroke-width="0.7"/>
<circle cx="292.1" cy="378.2" r="2.7" fill="none" stroke="#ff6262" stroke-width="0.7"/>
<circle cx="233.9" cy="396.2" r="2.7" fill="none" stroke="#ff6262" stroke-width="0.7"/>
<circle cx="240.7" cy="391.5" r="2.7" fill="none" stroke="#ff6262" stroke-width="0.7"/>
<circle cx="248.1" cy="386.3" r="2.7" fill="none" stroke="#ff6262" stroke-width="0.7"/>
<circle cx="254.9" cy="386.8" r="2.7" fill="none" stroke="#ff6262" stroke-width="0.7"/>
<circle cx="260.1" cy="391.5" r="2.7" fill="none" stroke="#ff6262" stroke-width="0.7"/>
<circle cx="270.1" cy="387.3" r="2.7" fill="none" stroke="#ff6262" stroke-width="0.7"/>
<circle cx="270.1" cy="391.5" r="2.7" fill="none" stroke="#ff6262" stroke-width="0.7"/>
<circle cx="255.4" cy="398.9" r="2.7" fill="none" stroke="#ff6262" stroke-width="0.7"/>
<circle cx="278.5" cy="390.5" r="2.7" fill="none" stroke="#ff6262" stroke-width="0.7"/>
<circle cx="280.6" cy="394.7" r="2.7" fill="none" stroke="#ff6262" stroke-width="0.7"/>
<circle cx="287.9" cy="385.2" r="2.7" fill="none" stroke="#ff6262" stroke-width="0.7"/>
<circle cx="292.1" cy="387.3" r="2.7" fill="none" stroke="#ff6262" stroke-width="0.7"/>
<circle cx="297.3" cy="389.4" r="2.7" fill="none" stroke="#ff6262" stroke-width="0.7"/>
<circle cx="301.5" cy="393.6" r="2.7" fill="none" stroke="#ff6262" stroke-width="0.7"/>
<circle cx="288.9" cy="381.0" r="2.7" fill="none" stroke="#ff6262" stroke-width="0.7"/>
<circle cx="296.3" cy="381.6" r="2.7" fill="none" stroke="#ff6262" stroke-width="0.7"/>
<circle cx="265.4" cy="381.0" r="2.7" fill="none" stroke="#ff6262" stroke-width="0.7"/>
<circle cx="228.1" cy="413.5" r="2.7" fill="none" stroke="#ff6262" stroke-width="0.7"/>
<circle cx="231.3" cy="411.4" r="2.7" fill="none" stroke="#ff6262" stroke-width="0.7"/>
<circle cx="234.4" cy="414.6" r="2.7" fill="none" stroke="#ff6262" stroke-width="0.7"/>
<circle cx="237.6" cy="409.4" r="2.7" fill="none" stroke="#ff6262" stroke-width="0.7"/>
<circle cx="240.7" cy="412.5" r="2.7" fill="none" stroke="#ff6262" stroke-width="0.7"/>
<circle cx="243.9" cy="406.2" r="2.7" fill="none" stroke="#ff6262" stroke-width="0.7"/>
<circle cx="246.0" cy="411.4" r="2.7" fill="none" stroke="#ff6262" stroke-width="0.7"/>
<circle cx="249.1" cy="409.4" r="2.7" fill="none" stroke="#ff6262" stroke-width="0.7"/>
<circle cx="251.2" cy="413.5" r="2.7" fill="none" stroke="#ff6262" stroke-width="0.7"/>
<circle cx="254.4" cy="406.2" r="2.7" fill="none" stroke="#ff6262" stroke-width="0.7"/>
<circle cx="256.4" cy="410.4" r="2.7" fill="none" stroke="#ff6262" stroke-width="0.7"/>
<circle cx="258.5" cy="414.6" r="2.7" fill="none" stroke="#ff6262" stroke-width="0.7"/>
<circle cx="261.7" cy="411.4" r="2.7" fill="none" stroke="#ff6262" stroke-width="0.7"/>
<circle cx="263.8" cy="419.8" r="2.7" fill="none" stroke="#ff6262" stroke-width="0.7"/>
<circle cx="256.4" cy="421.9" r="2.7" fill="none" stroke="#ff6262" stroke-width="0.7"/>
<circle cx="238.6" cy="423.0" r="2.7" fill="none" stroke="#ff6262" stroke-width="0.7"/>
<circle cx="246.0" cy="420.9" r="2.7" fill="none" stroke="#ff6262" stroke-width="0.7"/>
<circle cx="269.0" cy="407.3" r="2.7" fill="none" stroke="#ff6262" stroke-width="0.7"/>
<circle cx="271.1" cy="411.4" r="2.7" fill="none" stroke="#ff6262" stroke-width="0.7"/>
<circle cx="270.1" cy="415.6" r="2.7" fill="none" stroke="#ff6262" stroke-width="0.7"/>
<circle cx="274.3" cy="409.4" r="2.7" fill="none" stroke="#ff6262" stroke-width="0.7"/>
<circle cx="277.4" cy="411.4" r="2.7" fill="none" stroke="#ff6262" stroke-width="0.7"/>
<circle cx="275.3" cy="414.6" r="2.7" fill="none" stroke="#ff6262" stroke-width="0.7"/>
<circle cx="281.6" cy="409.4" r="2.7" fill="none" stroke="#ff6262" stroke-width="0.7"/>
<circle cx="285.8" cy="408.3" r="2.7" fill="none" stroke="#ff6262" stroke-width="0.7"/>
<circle cx="279.5" cy="406.2" r="2.7" fill="none" stroke="#ff6262" stroke-width="0.7"/>
<circle cx="266.9" cy="401.0" r="2.7" fill="none" stroke="#ff6262" stroke-width="0.7"/>
<circle cx="272.2" cy="399.9" r="2.7" fill="none" stroke="#ff6262" stroke-width="0.7"/>
<circle cx="261.7" cy="404.1" r="2.7" fill="none" stroke="#ff6262" stroke-width="0.7"/>
<circle cx="256.4" cy="403.1" r="2.7" fill="none" stroke="#ff6262" stroke-width="0.7"/>
<circle cx="252.3" cy="401.0" r="2.7" fill="none" stroke="#ff6262" stroke-width="0.7"/>
<circle cx="226.0" cy="416.7" r="2.7" fill="none" stroke="#ff6262" stroke-width="0.7"/>
<circle cx="229.7" cy="416.2" r="2.7" fill="none" stroke="#ff6262" stroke-width="0.7"/>
<circle cx="232.9" cy="417.7" r="2.7" fill="none" stroke="#ff6262" stroke-width="0.7"/>
<circle cx="236.0" cy="416.7" r="2.7" fill="none" stroke="#ff6262" stroke-width="0.7"/>
<circle cx="239.7" cy="416.2" r="2.7" fill="none" stroke="#ff6262" stroke-width="0.7"/>
<circle cx="242.3" cy="415.1" r="2.7" fill="none" stroke="#ff6262" stroke-width="0.7"/>
<circle cx="244.9" cy="414.6" r="2.7" fill="none" stroke="#ff6262" stroke-width="0.7"/>
<circle cx="247.5" cy="413.5" r="2.7" fill="none" stroke="#ff6262" stroke-width="0.7"/>
<circle cx="250.2" cy="416.2" r="2.7" fill="none" stroke="#ff6262" stroke-width="0.7"/>
<circle cx="252.8" cy="411.4" r="2.7" fill="none" stroke="#ff6262" stroke-width="0.7"/>
<circle cx="254.9" cy="414.6" r="2.7" fill="none" stroke="#ff6262" stroke-width="0.7"/>
<circle cx="257.5" cy="412.5" r="2.7" fill="none" stroke="#ff6262" stroke-width="0.7"/>
<circle cx="260.1" cy="409.9" r="2.7" fill="none" stroke="#ff6262" stroke-width="0.7"/>
<circle cx="262.7" cy="408.3" r="2.7" fill="none" stroke="#ff6262" stroke-width="0.7"/>
<circle cx="265.4" cy="411.4" r="2.7" fill="none" stroke="#ff6262" stroke-width="0.7"/>
<circle cx="267.5" cy="413.5" r="2.7" fill="none" stroke="#ff6262" stroke-width="0.7"/>
<circle cx="266.4" cy="407.3" r="2.7" fill="none" stroke="#ff6262" stroke-width="0.7"/>
<circle cx="272.7" cy="412.5" r="2.7" fill="none" stroke="#ff6262" stroke-width="0.7"/>
<circle cx="276.4" cy="408.3" r="2.7" fill="none" stroke="#ff6262" stroke-width="0.7"/>
<circle cx="250.2" cy="421.9" r="2.7" fill="none" stroke="#ff6262" stroke-width="0.7"/>
<circle cx="242.8" cy="421.4" r="2.7" fill="none" stroke="#ff6262" stroke-width="0.7"/>
<circle cx="235.5" cy="420.9" r="2.7" fill="none" stroke="#ff6262" stroke-width="0.7"/>
<circle cx="287.8" cy="381.6" r="2.7" fill="none" stroke="#ff6262" stroke-width="0.7"/>
<circle cx="291.5" cy="384.2" r="2.7" fill="none" stroke="#ff6262" stroke-width="0.7"/>
<circle cx="289.9" cy="387.9" r="2.7" fill="none" stroke="#ff6262" stroke-width="0.7"/>
<circle cx="295.7" cy="383.1" r="2.7" fill="none" stroke="#ff6262" stroke-width="0.7"/>
<circle cx="297.8" cy="390.0" r="2.7" fill="none" stroke="#ff6262" stroke-width="0.7"/>
<circle cx="300.9" cy="393.1" r="2.7" fill="none" stroke="#ff6262" stroke-width="0.7"/>
<circle cx="293.6" cy="391.5" r="2.7" fill="none" stroke="#ff6262" stroke-width="0.7"/>
<circle cx="301.4" cy="386.3" r="2.7" fill="none" stroke="#ff6262" stroke-width="0.7"/>
<circle cx="285.7" cy="385.8" r="2.7" fill="none" stroke="#ff6262" stroke-width="0.7"/>
<circle cx="282.6" cy="382.1" r="2.7" fill="none" stroke="#ff6262" stroke-width="0.7"/>
<circle cx="276.3" cy="386.3" r="2.7" fill="none" stroke="#ff6262" stroke-width="0.7"/>
<circle cx="273.1" cy="383.1" r="2.7" fill="none" stroke="#ff6262" stroke-width="0.7"/>
<circle cx="272.1" cy="390.5" r="2.7" fill="none" stroke="#ff6262" stroke-width="0.7"/>
<circle cx="275.8" cy="393.6" r="2.7" fill="none" stroke="#ff6262" stroke-width="0.7"/>
<circle cx="271.0" cy="404.1" r="2.7" fill="none" stroke="#ff6262" stroke-width="0.7"/>
<circle cx="274.2" cy="407.3" r="2.7" fill="none" stroke="#ff6262" stroke-width="0.7"/>
<circle cx="276.3" cy="411.4" r="2.7" fill="none" stroke="#ff6262" stroke-width="0.7"/>
<circle cx="280.5" cy="409.4" r="2.7" fill="none" stroke="#ff6262" stroke-width="0.7"/>
<circle cx="272.1" cy="413.5" r="2.7" fill="none" stroke="#ff6262" stroke-width="0.7"/>
<circle cx="284.7" cy="407.3" r="2.7" fill="none" stroke="#ff6262" stroke-width="0.7"/>
<circle cx="282.6" cy="411.4" r="2.7" fill="none" stroke="#ff6262" stroke-width="0.7"/>
<circle cx="311.4" cy="367.4" r="2.7" fill="none" stroke="#ff6262" stroke-width="0.7"/>
<circle cx="179.4" cy="428.0" r="2.7" fill="none" stroke="#ff6262" stroke-width="0.7"/>
<circle cx="187.9" cy="426.4" r="2.7" fill="none" stroke="#ff6262" stroke-width="0.7"/>
<circle cx="210.3" cy="414.4" r="2.7" fill="none" stroke="#ff6262" stroke-width="0.7"/>
<circle cx="201.9" cy="421.7" r="2.7" fill="none" stroke="#ff6262" stroke-width="0.7"/>
<circle cx="206.6" cy="421.7" r="2.7" fill="none" stroke="#ff6262" stroke-width="0.7"/>
<circle cx="210.8" cy="420.6" r="2.7" fill="none" stroke="#ff6262" stroke-width="0.7"/>
<circle cx="227.6" cy="414.4" r="2.7" fill="none" stroke="#ff6262" stroke-width="0.7"/>
<circle cx="221.3" cy="423.8" r="2.7" fill="none" stroke="#ff6262" stroke-width="0.7"/>
<circle cx="215.0" cy="422.7" r="2.7" fill="none" stroke="#ff6262" stroke-width="0.7"/>
<circle cx="223.4" cy="419.6" r="2.7" fill="none" stroke="#ff6262" stroke-width="0.7"/>
<circle cx="197.7" cy="423.3" r="2.7" fill="none" stroke="#ff6262" stroke-width="0.7"/>
</g>
<g clip-path="url(#cmp)">
<path d="M269.80,191.60 L269.74,194.89 L269.67,199.19 L269.58,204.30 L269.48,210.03 L269.37,216.16 L269.25,222.50 L269.13,228.85 L269.00,235.00 L268.86,241.19 L268.72,247.70 L268.56,254.42 L268.40,261.25 L268.23,268.07 L268.06,274.78 L267.88,281.26 L267.70,287.40 L267.51,293.38 L267.32,299.39 L267.12,305.31 L266.91,311.04 L266.71,316.48 L266.50,321.52 L266.30,326.06 L266.10,330.00 L265.91,333.21 L265.73,335.74 L265.55,337.73 L265.37,339.35 L265.19,340.73 L265.00,342.04 L264.81,343.41 L264.60,345.00 L264.39,346.68 L264.18,348.25 L263.97,349.76 L263.74,351.26 L263.51,352.78 L263.26,354.38 L262.99,356.11 L262.70,358.00 L262.38,360.12 L262.03,362.46 L261.66,364.93 L261.27,367.47 L260.88,370.01 L260.48,372.48 L260.09,374.80 L259.70,376.90 L259.31,378.82 L258.92,380.64 L258.52,382.35 L258.13,383.98 L257.73,385.50 L257.34,386.93 L256.96,388.26 L256.60,389.50 L256.25,390.61 L255.92,391.56 L255.61,392.40 L255.29,393.16 L254.98,393.86 L254.67,394.55 L254.34,395.25 L254.00,396.00 L253.65,396.79 L253.30,397.58 L252.95,398.36 L252.59,399.14 L252.22,399.90 L251.83,400.65 L251.43,401.39 L251.00,402.10 L250.55,402.79 L250.08,403.46 L249.59,404.12 L249.09,404.76 L248.57,405.39 L248.05,406.00 L247.53,406.61 L247.00,407.20 L246.48,407.78 L245.96,408.34 L245.43,408.88 L244.90,409.42 L244.36,409.94 L243.79,410.46 L243.21,410.98 L242.60,411.50 L241.97,412.02 L241.32,412.54 L240.65,413.06 L239.96,413.58 L239.26,414.08 L238.53,414.57 L237.78,415.05 L237.00,415.50 L236.23,415.93 L235.49,416.35 L234.74,416.75 L233.96,417.14 L233.13,417.51 L232.20,417.88 L231.17,418.24 L230.00,418.60 L228.66,418.95 L227.17,419.29 L225.57,419.63 L223.88,419.96 L222.15,420.28 L220.40,420.59 L218.67,420.90 L217.00,421.20 L215.42,421.49 L213.92,421.77 L212.44,422.04 L210.95,422.30 L209.40,422.56 L207.73,422.83 L205.92,423.11 L203.90,423.40 L201.66,423.71 L199.24,424.03 L196.67,424.37 L193.98,424.71 L191.22,425.04 L188.43,425.38 L185.65,425.70 L182.90,426.00 L180.01,426.30 L176.87,426.61 L173.62,426.92 L170.39,427.21 L167.32,427.49 L164.56,427.73 L162.24,427.94 L160.50,428.10" fill="none" stroke="#0000ff" stroke-width="2.05" stroke-linejoin="round" stroke-linecap="butt" stroke-dasharray="10.2 8.5" stroke-dashoffset="11.4"/>
<path d="M318.60,191.60 L318.52,194.89 L318.41,199.19 L318.30,204.30 L318.16,210.03 L318.00,216.16 L317.82,222.50 L317.62,228.85 L317.40,235.00 L317.15,241.21 L316.88,247.76 L316.58,254.54 L316.27,261.43 L315.94,268.28 L315.60,274.97 L315.25,281.39 L314.90,287.40 L314.53,293.18 L314.12,298.94 L313.69,304.56 L313.26,309.96 L312.84,315.02 L312.45,319.65 L312.10,323.74 L311.80,327.20 L311.58,329.82 L311.43,331.62 L311.33,332.80 L311.25,333.59 L311.17,334.20 L311.07,334.84 L310.92,335.74 L310.70,337.10 L310.41,338.88 L310.08,340.87 L309.71,342.99 L309.32,345.21 L308.90,347.46 L308.47,349.69 L308.03,351.86 L307.60,353.90 L307.16,355.84 L306.72,357.73 L306.26,359.58 L305.79,361.39 L305.31,363.19 L304.82,364.96 L304.32,366.73 L303.80,368.50 L303.25,370.29 L302.67,372.09 L302.06,373.90 L301.45,375.68 L300.84,377.42 L300.26,379.11 L299.70,380.70 L299.20,382.20 L298.75,383.60 L298.35,384.92 L297.99,386.16 L297.64,387.34 L297.31,388.46 L296.96,389.52 L296.60,390.54 L296.20,391.50 L295.78,392.40 L295.37,393.21 L294.95,393.96 L294.52,394.66 L294.06,395.32 L293.58,395.97 L293.06,396.63 L292.50,397.30 L291.90,397.97 L291.27,398.63 L290.61,399.27 L289.91,399.90 L289.19,400.53 L288.43,401.17 L287.63,401.83 L286.80,402.50 L285.92,403.21 L284.98,403.96 L283.99,404.72 L282.98,405.49 L281.95,406.25 L280.92,406.98 L279.90,407.67 L278.90,408.30 L277.93,408.86 L276.98,409.36 L276.04,409.82 L275.09,410.25 L274.14,410.67 L273.16,411.09 L272.15,411.53 L271.10,412.00 L269.99,412.51 L268.84,413.05 L267.65,413.61 L266.44,414.17 L265.22,414.72 L264.02,415.25 L262.84,415.75 L261.70,416.20 L260.61,416.60 L259.55,416.97 L258.52,417.31 L257.50,417.63 L256.48,417.93 L255.45,418.22 L254.39,418.51 L253.30,418.80 L252.20,419.09 L251.13,419.36 L250.05,419.63 L248.94,419.89 L247.80,420.15 L246.59,420.40 L245.30,420.65 L243.90,420.90 L242.46,421.14 L241.03,421.36 L239.55,421.57 L237.99,421.78 L236.30,422.00 L234.44,422.24 L232.35,422.50 L230.00,422.80 L227.44,423.14 L224.74,423.53 L221.87,423.94 L218.79,424.37 L215.49,424.80 L211.93,425.23 L208.07,425.63 L203.90,426.00 L199.01,426.35 L193.25,426.71 L186.98,427.06 L180.57,427.40 L174.36,427.71 L168.70,427.99 L163.97,428.22 L160.50,428.40" fill="none" stroke="#0000ff" stroke-width="2.05" stroke-linejoin="round" stroke-linecap="butt" stroke-dasharray="10.2 8.5" stroke-dashoffset="5.0"/>
<path d="M160.50,428.30 L162.24,428.17 L164.56,428.00 L167.32,427.80 L170.39,427.57 L173.62,427.33 L176.87,427.08 L180.01,426.83 L182.90,426.60 L185.59,426.38 L188.25,426.17 L190.88,425.96 L193.49,425.75 L196.09,425.52 L198.69,425.28 L201.29,425.01 L203.90,424.70 L206.57,424.35 L209.33,423.97 L212.11,423.55 L214.88,423.12 L217.57,422.68 L220.16,422.24 L222.59,421.81 L224.80,421.40 L226.77,421.02 L228.53,420.67 L230.13,420.33 L231.62,419.99 L233.04,419.64 L234.44,419.27 L235.88,418.86 L237.40,418.40 L239.03,417.87 L240.72,417.29 L242.45,416.66 L244.16,416.01 L245.82,415.35 L247.37,414.72 L248.78,414.13 L250.00,413.60 L251.00,413.13 L251.82,412.71 L252.49,412.33 L253.06,411.97 L253.57,411.62 L254.07,411.26 L254.60,410.90 L255.20,410.50 L255.86,410.09 L256.52,409.69 L257.19,409.28 L257.86,408.86 L258.52,408.43 L259.19,407.98 L259.85,407.51 L260.50,407.00 L261.16,406.45 L261.83,405.86 L262.51,405.23 L263.18,404.59 L263.84,403.95 L264.46,403.31 L265.05,402.69 L265.60,402.10 L266.09,401.54 L266.54,401.01 L266.94,400.49 L267.33,399.98 L267.69,399.47 L268.05,398.95 L268.42,398.43 L268.80,397.90 L269.19,397.36 L269.58,396.83 L269.97,396.30 L270.35,395.76 L270.73,395.21 L271.12,394.64 L271.51,394.04 L271.90,393.40 L272.30,392.71 L272.72,391.97 L273.14,391.20 L273.56,390.41 L273.98,389.61 L274.37,388.84 L274.75,388.09 L275.10,387.40 L275.42,386.77 L275.70,386.18 L275.97,385.63 L276.22,385.09 L276.46,384.56 L276.70,384.01 L276.95,383.43 L277.20,382.80 L277.46,382.13 L277.72,381.44 L277.99,380.72 L278.25,379.98 L278.51,379.23 L278.77,378.46 L279.04,377.68 L279.30,376.90 L279.56,376.15 L279.81,375.46 L280.06,374.78 L280.31,374.07 L280.57,373.30 L280.83,372.42 L281.11,371.40 L281.40,370.20 L281.71,368.79 L282.05,367.19 L282.40,365.45 L282.76,363.60 L283.12,361.69 L283.47,359.76 L283.80,357.85 L284.10,356.00 L284.38,354.13 L284.66,352.16 L284.93,350.15 L285.18,348.16 L285.42,346.22 L285.64,344.40 L285.83,342.74 L286.00,341.30 L286.12,340.41 L286.18,340.16 L286.21,340.24 L286.23,340.36 L286.25,340.19 L286.30,339.45 L286.41,337.82 L286.60,335.00 L286.88,330.84 L287.23,325.57 L287.64,319.45 L288.08,312.73 L288.53,305.67 L288.96,298.52 L289.36,291.55 L289.70,285.00 L289.98,278.70 L290.24,272.35 L290.48,265.96 L290.69,259.59 L290.88,253.27 L291.06,247.04 L291.24,240.93 L291.40,235.00 L291.56,228.96 L291.70,222.67 L291.84,216.33 L291.96,210.18 L292.06,204.41 L292.16,199.24 L292.24,194.90 L292.30,191.60" fill="none" stroke="#0000ff" stroke-width="2.05" stroke-linejoin="round" stroke-linecap="butt" />
</g>
<line x1="138.62" y1="428.40" x2="138.62" y2="424.70" stroke="#000" stroke-width="1.1" stroke-linecap="butt"/>
<line x1="138.62" y1="187.70" x2="138.62" y2="195.10" stroke="#000" stroke-width="1.1" stroke-linecap="butt"/>
<line x1="138.62" y1="112.30" x2="138.62" y2="116.00" stroke="#000" stroke-width="1.1" stroke-linecap="butt"/>
<line x1="158.19" y1="428.40" x2="158.19" y2="424.70" stroke="#000" stroke-width="1.1" stroke-linecap="butt"/>
<line x1="158.19" y1="187.70" x2="158.19" y2="195.10" stroke="#000" stroke-width="1.1" stroke-linecap="butt"/>
<line x1="158.19" y1="112.30" x2="158.19" y2="116.00" stroke="#000" stroke-width="1.1" stroke-linecap="butt"/>
<line x1="177.76" y1="428.40" x2="177.76" y2="424.70" stroke="#000" stroke-width="1.1" stroke-linecap="butt"/>
<line x1="177.76" y1="187.70" x2="177.76" y2="195.10" stroke="#000" stroke-width="1.1" stroke-linecap="butt"/>
<line x1="177.76" y1="112.30" x2="177.76" y2="116.00" stroke="#000" stroke-width="1.1" stroke-linecap="butt"/>
<line x1="197.33" y1="428.40" x2="197.33" y2="424.70" stroke="#000" stroke-width="1.1" stroke-linecap="butt"/>
<line x1="197.33" y1="187.70" x2="197.33" y2="195.10" stroke="#000" stroke-width="1.1" stroke-linecap="butt"/>
<line x1="197.33" y1="112.30" x2="197.33" y2="116.00" stroke="#000" stroke-width="1.1" stroke-linecap="butt"/>
<line x1="216.90" y1="428.40" x2="216.90" y2="421.60" stroke="#000" stroke-width="1.1" stroke-linecap="butt"/>
<line x1="216.90" y1="184.60" x2="216.90" y2="198.20" stroke="#000" stroke-width="1.1" stroke-linecap="butt"/>
<line x1="216.90" y1="112.30" x2="216.90" y2="119.10" stroke="#000" stroke-width="1.1" stroke-linecap="butt"/>
<line x1="236.47" y1="428.40" x2="236.47" y2="424.70" stroke="#000" stroke-width="1.1" stroke-linecap="butt"/>
<line x1="236.47" y1="187.70" x2="236.47" y2="195.10" stroke="#000" stroke-width="1.1" stroke-linecap="butt"/>
<line x1="236.47" y1="112.30" x2="236.47" y2="116.00" stroke="#000" stroke-width="1.1" stroke-linecap="butt"/>
<line x1="256.04" y1="428.40" x2="256.04" y2="424.70" stroke="#000" stroke-width="1.1" stroke-linecap="butt"/>
<line x1="256.04" y1="187.70" x2="256.04" y2="195.10" stroke="#000" stroke-width="1.1" stroke-linecap="butt"/>
<line x1="256.04" y1="112.30" x2="256.04" y2="116.00" stroke="#000" stroke-width="1.1" stroke-linecap="butt"/>
<line x1="275.61" y1="428.40" x2="275.61" y2="424.70" stroke="#000" stroke-width="1.1" stroke-linecap="butt"/>
<line x1="275.61" y1="187.70" x2="275.61" y2="195.10" stroke="#000" stroke-width="1.1" stroke-linecap="butt"/>
<line x1="275.61" y1="112.30" x2="275.61" y2="116.00" stroke="#000" stroke-width="1.1" stroke-linecap="butt"/>
<line x1="295.18" y1="428.40" x2="295.18" y2="424.70" stroke="#000" stroke-width="1.1" stroke-linecap="butt"/>
<line x1="295.18" y1="187.70" x2="295.18" y2="195.10" stroke="#000" stroke-width="1.1" stroke-linecap="butt"/>
<line x1="295.18" y1="112.30" x2="295.18" y2="116.00" stroke="#000" stroke-width="1.1" stroke-linecap="butt"/>
<line x1="314.75" y1="428.40" x2="314.75" y2="421.60" stroke="#000" stroke-width="1.1" stroke-linecap="butt"/>
<line x1="314.75" y1="184.60" x2="314.75" y2="198.20" stroke="#000" stroke-width="1.1" stroke-linecap="butt"/>
<line x1="314.75" y1="112.30" x2="314.75" y2="119.10" stroke="#000" stroke-width="1.1" stroke-linecap="butt"/>
<line x1="334.32" y1="428.40" x2="334.32" y2="424.70" stroke="#000" stroke-width="1.1" stroke-linecap="butt"/>
<line x1="334.32" y1="187.70" x2="334.32" y2="195.10" stroke="#000" stroke-width="1.1" stroke-linecap="butt"/>
<line x1="334.32" y1="112.30" x2="334.32" y2="116.00" stroke="#000" stroke-width="1.1" stroke-linecap="butt"/>
<line x1="119.60" y1="410.65" x2="127.00" y2="410.65" stroke="#000" stroke-width="1.1" stroke-linecap="butt"/>
<line x1="343.70" y1="410.65" x2="340.00" y2="410.65" stroke="#000" stroke-width="1.1" stroke-linecap="butt"/>
<line x1="44.20" y1="410.65" x2="47.90" y2="410.65" stroke="#000" stroke-width="1.1" stroke-linecap="butt"/>
<line x1="119.60" y1="390.70" x2="127.00" y2="390.70" stroke="#000" stroke-width="1.1" stroke-linecap="butt"/>
<line x1="343.70" y1="390.70" x2="340.00" y2="390.70" stroke="#000" stroke-width="1.1" stroke-linecap="butt"/>
<line x1="44.20" y1="390.70" x2="47.90" y2="390.70" stroke="#000" stroke-width="1.1" stroke-linecap="butt"/>
<line x1="119.60" y1="370.75" x2="127.00" y2="370.75" stroke="#000" stroke-width="1.1" stroke-linecap="butt"/>
<line x1="343.70" y1="370.75" x2="340.00" y2="370.75" stroke="#000" stroke-width="1.1" stroke-linecap="butt"/>
<line x1="44.20" y1="370.75" x2="47.90" y2="370.75" stroke="#000" stroke-width="1.1" stroke-linecap="butt"/>
<line x1="119.60" y1="350.80" x2="127.00" y2="350.80" stroke="#000" stroke-width="1.1" stroke-linecap="butt"/>
<line x1="343.70" y1="350.80" x2="340.00" y2="350.80" stroke="#000" stroke-width="1.1" stroke-linecap="butt"/>
<line x1="44.20" y1="350.80" x2="47.90" y2="350.80" stroke="#000" stroke-width="1.1" stroke-linecap="butt"/>
<line x1="116.50" y1="330.85" x2="130.10" y2="330.85" stroke="#000" stroke-width="1.1" stroke-linecap="butt"/>
<line x1="343.70" y1="330.85" x2="336.90" y2="330.85" stroke="#000" stroke-width="1.1" stroke-linecap="butt"/>
<line x1="44.20" y1="330.85" x2="51.00" y2="330.85" stroke="#000" stroke-width="1.1" stroke-linecap="butt"/>
<line x1="119.60" y1="310.90" x2="127.00" y2="310.90" stroke="#000" stroke-width="1.1" stroke-linecap="butt"/>
<line x1="343.70" y1="310.90" x2="340.00" y2="310.90" stroke="#000" stroke-width="1.1" stroke-linecap="butt"/>
<line x1="44.20" y1="310.90" x2="47.90" y2="310.90" stroke="#000" stroke-width="1.1" stroke-linecap="butt"/>
<line x1="119.60" y1="290.95" x2="127.00" y2="290.95" stroke="#000" stroke-width="1.1" stroke-linecap="butt"/>
<line x1="343.70" y1="290.95" x2="340.00" y2="290.95" stroke="#000" stroke-width="1.1" stroke-linecap="butt"/>
<line x1="44.20" y1="290.95" x2="47.90" y2="290.95" stroke="#000" stroke-width="1.1" stroke-linecap="butt"/>
<line x1="119.60" y1="271.00" x2="127.00" y2="271.00" stroke="#000" stroke-width="1.1" stroke-linecap="butt"/>
<line x1="343.70" y1="271.00" x2="340.00" y2="271.00" stroke="#000" stroke-width="1.1" stroke-linecap="butt"/>
<line x1="44.20" y1="271.00" x2="47.90" y2="271.00" stroke="#000" stroke-width="1.1" stroke-linecap="butt"/>
<line x1="119.60" y1="251.05" x2="127.00" y2="251.05" stroke="#000" stroke-width="1.1" stroke-linecap="butt"/>
<line x1="343.70" y1="251.05" x2="340.00" y2="251.05" stroke="#000" stroke-width="1.1" stroke-linecap="butt"/>
<line x1="44.20" y1="251.05" x2="47.90" y2="251.05" stroke="#000" stroke-width="1.1" stroke-linecap="butt"/>
<line x1="116.50" y1="231.10" x2="130.10" y2="231.10" stroke="#000" stroke-width="1.1" stroke-linecap="butt"/>
<line x1="343.70" y1="231.10" x2="336.90" y2="231.10" stroke="#000" stroke-width="1.1" stroke-linecap="butt"/>
<line x1="44.20" y1="231.10" x2="51.00" y2="231.10" stroke="#000" stroke-width="1.1" stroke-linecap="butt"/>
<line x1="119.60" y1="211.15" x2="127.00" y2="211.15" stroke="#000" stroke-width="1.1" stroke-linecap="butt"/>
<line x1="343.70" y1="211.15" x2="340.00" y2="211.15" stroke="#000" stroke-width="1.1" stroke-linecap="butt"/>
<line x1="44.20" y1="211.15" x2="47.90" y2="211.15" stroke="#000" stroke-width="1.1" stroke-linecap="butt"/>
<line x1="116.70" y1="428.40" x2="116.70" y2="424.70" stroke="#000" stroke-width="1.1" stroke-linecap="butt"/>
<line x1="116.70" y1="191.40" x2="116.70" y2="195.10" stroke="#000" stroke-width="1.1" stroke-linecap="butt"/>
<line x1="110.10" y1="428.40" x2="110.10" y2="424.70" stroke="#000" stroke-width="1.1" stroke-linecap="butt"/>
<line x1="110.10" y1="191.40" x2="110.10" y2="195.10" stroke="#000" stroke-width="1.1" stroke-linecap="butt"/>
<line x1="103.50" y1="428.40" x2="103.50" y2="424.70" stroke="#000" stroke-width="1.1" stroke-linecap="butt"/>
<line x1="103.50" y1="191.40" x2="103.50" y2="195.10" stroke="#000" stroke-width="1.1" stroke-linecap="butt"/>
<line x1="96.90" y1="428.40" x2="96.90" y2="424.70" stroke="#000" stroke-width="1.1" stroke-linecap="butt"/>
<line x1="96.90" y1="191.40" x2="96.90" y2="195.10" stroke="#000" stroke-width="1.1" stroke-linecap="butt"/>
<line x1="90.30" y1="428.40" x2="90.30" y2="421.60" stroke="#000" stroke-width="1.1" stroke-linecap="butt"/>
<line x1="90.30" y1="191.40" x2="90.30" y2="198.20" stroke="#000" stroke-width="1.1" stroke-linecap="butt"/>
<line x1="83.70" y1="428.40" x2="83.70" y2="424.70" stroke="#000" stroke-width="1.1" stroke-linecap="butt"/>
<line x1="83.70" y1="191.40" x2="83.70" y2="195.10" stroke="#000" stroke-width="1.1" stroke-linecap="butt"/>
<line x1="77.10" y1="428.40" x2="77.10" y2="424.70" stroke="#000" stroke-width="1.1" stroke-linecap="butt"/>
<line x1="77.10" y1="191.40" x2="77.10" y2="195.10" stroke="#000" stroke-width="1.1" stroke-linecap="butt"/>
<line x1="70.50" y1="428.40" x2="70.50" y2="424.70" stroke="#000" stroke-width="1.1" stroke-linecap="butt"/>
<line x1="70.50" y1="191.40" x2="70.50" y2="195.10" stroke="#000" stroke-width="1.1" stroke-linecap="butt"/>
<line x1="63.90" y1="428.40" x2="63.90" y2="424.70" stroke="#000" stroke-width="1.1" stroke-linecap="butt"/>
<line x1="63.90" y1="191.40" x2="63.90" y2="195.10" stroke="#000" stroke-width="1.1" stroke-linecap="butt"/>
<line x1="57.30" y1="428.40" x2="57.30" y2="421.60" stroke="#000" stroke-width="1.1" stroke-linecap="butt"/>
<line x1="57.30" y1="191.40" x2="57.30" y2="198.20" stroke="#000" stroke-width="1.1" stroke-linecap="butt"/>
<line x1="50.70" y1="428.40" x2="50.70" y2="424.70" stroke="#000" stroke-width="1.1" stroke-linecap="butt"/>
<line x1="50.70" y1="191.40" x2="50.70" y2="195.10" stroke="#000" stroke-width="1.1" stroke-linecap="butt"/>
<line x1="123.30" y1="178.20" x2="127.00" y2="178.20" stroke="#000" stroke-width="1.1" stroke-linecap="butt"/>
<line x1="343.70" y1="178.20" x2="340.00" y2="178.20" stroke="#000" stroke-width="1.1" stroke-linecap="butt"/>
<line x1="123.30" y1="165.00" x2="127.00" y2="165.00" stroke="#000" stroke-width="1.1" stroke-linecap="butt"/>
<line x1="343.70" y1="165.00" x2="340.00" y2="165.00" stroke="#000" stroke-width="1.1" stroke-linecap="butt"/>
<line x1="123.30" y1="151.80" x2="127.00" y2="151.80" stroke="#000" stroke-width="1.1" stroke-linecap="butt"/>
<line x1="343.70" y1="151.80" x2="340.00" y2="151.80" stroke="#000" stroke-width="1.1" stroke-linecap="butt"/>
<line x1="123.30" y1="138.60" x2="127.00" y2="138.60" stroke="#000" stroke-width="1.1" stroke-linecap="butt"/>
<line x1="343.70" y1="138.60" x2="340.00" y2="138.60" stroke="#000" stroke-width="1.1" stroke-linecap="butt"/>
<line x1="123.30" y1="125.40" x2="130.10" y2="125.40" stroke="#000" stroke-width="1.1" stroke-linecap="butt"/>
<line x1="343.70" y1="125.40" x2="336.90" y2="125.40" stroke="#000" stroke-width="1.1" stroke-linecap="butt"/>
<rect x="44.20" y="191.40" width="79.10" height="237.00" fill="none" stroke="#000" stroke-width="1.25"/>
<rect x="123.30" y="191.40" width="220.40" height="237.00" fill="none" stroke="#000" stroke-width="1.25"/>
<rect x="123.30" y="112.30" width="220.40" height="79.10" fill="none" stroke="#000" stroke-width="1.25"/>
<line x1="259.30" y1="141.00" x2="259.30" y2="191.60" stroke="#ff0000" stroke-width="1.9" stroke-linecap="butt"/>
<line x1="238.40" y1="166.00" x2="238.40" y2="191.60" stroke="#ff0000" stroke-width="1.2" stroke-linecap="butt" stroke-dasharray="1.2 1.2"/>
<line x1="282.40" y1="163.50" x2="282.40" y2="191.60" stroke="#ff0000" stroke-width="1.2" stroke-linecap="butt" stroke-dasharray="3 2"/>
<path d="M154.70,191.40 L159.48,191.30 L166.37,191.16 L173.83,190.96 L180.30,190.70 L185.50,190.36 L190.20,189.95 L194.48,189.49 L198.40,189.00 L201.90,188.48 L204.96,187.91 L207.75,187.32 L210.40,186.70 L212.88,186.14 L215.14,185.62 L217.30,184.96 L219.50,184.00 L221.86,182.58 L224.29,180.84 L226.57,179.02 L228.50,177.40 L229.94,176.07 L231.03,174.89 L231.97,173.74 L233.00,172.50 L234.15,171.15 L235.31,169.76 L236.46,168.31 L237.60,166.80 L238.71,165.22 L239.80,163.58 L240.89,161.90 L242.00,160.20 L243.15,158.45 L244.33,156.64 L245.49,154.87 L246.60,153.20 L247.63,151.65 L248.61,150.17 L249.56,148.79 L250.50,147.50 L251.46,146.29 L252.43,145.16 L253.36,144.15 L254.20,143.30 L254.94,142.64 L255.61,142.13 L256.22,141.74 L256.80,141.40 L257.32,141.11 L257.79,140.90 L258.24,140.76 L258.70,140.70 L259.18,140.72 L259.66,140.81 L260.14,140.98 L260.60,141.20 L261.00,141.44 L261.37,141.72 L261.77,142.12 L262.30,142.70 L262.98,143.52 L263.77,144.54 L264.63,145.66 L265.50,146.80 L266.39,147.97 L267.31,149.20 L268.26,150.46 L269.20,151.70 L270.14,152.94 L271.09,154.19 L272.05,155.42 L273.00,156.60 L273.98,157.77 L274.99,158.93 L275.95,159.98 L276.80,160.80 L277.51,161.32 L278.11,161.61 L278.65,161.79 L279.20,162.00 L279.74,162.23 L280.26,162.42 L280.77,162.63 L281.30,162.90 L281.84,163.24 L282.39,163.63 L282.94,164.08 L283.50,164.60 L284.02,165.17 L284.51,165.78 L285.07,166.51 L285.80,167.40 L286.77,168.54 L287.91,169.88 L289.12,171.27 L290.30,172.60 L291.45,173.86 L292.61,175.10 L293.76,176.29 L294.90,177.40 L296.01,178.40 L297.10,179.31 L298.19,180.17 L299.30,181.00 L300.44,181.81 L301.60,182.58 L302.76,183.31 L303.90,184.00 L305.01,184.63 L306.09,185.22 L307.18,185.77 L308.30,186.30 L309.42,186.81 L310.55,187.30 L311.73,187.76 L313.00,188.20 L314.41,188.62 L315.92,189.01 L317.47,189.38 L319.00,189.70 L320.43,189.97 L321.81,190.21 L323.29,190.41 L325.00,190.60 L327.01,190.78 L329.24,190.94 L331.60,191.08 L334.00,191.20 L336.70,191.30 L339.66,191.39 L342.34,191.45 L344.20,191.50" fill="none" stroke="#ff0000" stroke-width="2.2" stroke-linejoin="round" stroke-linecap="butt" />
<line x1="91.40" y1="406.70" x2="123.40" y2="406.70" stroke="#ff0000" stroke-width="1.9" stroke-linecap="butt"/>
<line x1="84.00" y1="418.20" x2="123.40" y2="418.20" stroke="#ff0000" stroke-width="1.3" stroke-linecap="butt" stroke-dasharray="1.6 2.6"/>
<line x1="121.00" y1="373.40" x2="123.40" y2="373.40" stroke="#ff0000" stroke-width="1.2" stroke-linecap="butt"/>
<path d="M123.20,191.60 L123.17,204.56 L123.12,223.30 L123.07,243.29 L123.00,260.00 L122.92,272.23 L122.83,282.40 L122.73,291.37 L122.60,300.00 L122.44,308.64 L122.26,316.79 L122.07,324.05 L121.90,330.00 L121.76,334.06 L121.63,336.61 L121.49,338.67 L121.30,341.30 L121.06,344.74 L120.79,348.44 L120.48,352.25 L120.10,356.00 L119.67,359.73 L119.20,363.49 L118.65,367.16 L118.00,370.60 L117.24,373.76 L116.39,376.73 L115.45,379.53 L114.40,382.20 L113.29,384.73 L112.10,387.10 L110.76,389.37 L109.20,391.60 L107.35,393.82 L105.26,395.99 L103.05,398.07 L100.80,400.00 L98.52,401.76 L96.17,403.39 L93.78,404.90 L91.40,406.30 L88.95,407.60 L86.43,408.78 L84.02,409.85 L81.90,410.80 L80.13,411.60 L78.61,412.26 L77.26,412.84 L76.00,413.40 L74.66,413.93 L73.33,414.41 L72.31,414.86 L71.90,415.30 L72.31,415.71 L73.33,416.09 L74.66,416.48 L76.00,416.90 L77.19,417.33 L78.42,417.77 L79.91,418.27 L81.90,418.90 L84.58,419.72 L87.78,420.69 L91.19,421.68 L94.50,422.60 L97.63,423.40 L100.74,424.16 L103.88,424.88 L107.10,425.60 L110.75,426.38 L114.69,427.19 L118.23,427.90 L120.70,428.40" fill="none" stroke="#ff0000" stroke-width="2.2" stroke-linejoin="miter" stroke-linecap="butt" />
<clipPath id="crt"><rect x="477.7" y="98.5" width="275.7" height="129.9"/></clipPath>
<g clip-path="url(#crt)">
<path d="M477.70,226.60 L480.37,226.17 L484.18,225.59 L488.00,225.41 L491.60,224.40 L495.22,224.04 L498.40,223.21 L500.90,222.26 L502.97,221.81 L504.90,220.68 L506.68,220.19 L508.32,219.14 L510.10,218.11 L512.17,216.92 L514.39,215.54 L516.60,213.34 L518.77,211.73 L520.93,210.29 L523.10,208.71 L525.27,206.54 L527.43,204.41 L529.60,202.83 L531.81,200.16 L534.03,198.72 L536.10,196.55 L537.88,195.08 L539.52,193.93 L541.30,192.97 L543.42,192.19 L545.68,190.64 L547.80,189.86 L549.64,188.85 L551.33,187.64 L553.00,186.83 L554.63,185.68 L556.24,184.96 L558.00,184.39 L560.00,184.09 L562.15,183.33 L564.30,182.77 L566.40,182.59 L568.50,182.23 L570.60,181.96 L572.74,182.34 L574.87,182.42 L576.90,182.12 L578.67,182.04 L580.32,181.57 L582.20,181.66 L584.52,181.96 L587.07,182.35 L589.50,183.44 L591.60,183.19 L593.58,183.66 L595.80,184.18 L598.52,184.13 L601.48,184.74 L604.20,184.68 L606.46,185.18 L608.48,185.18 L610.50,184.85 L612.53,184.75 L614.55,183.92 L616.80,183.64 L619.51,182.88 L622.44,182.07 L625.10,181.17 L627.23,180.60 L629.10,179.81 L631.00,178.68 L632.89,178.10 L634.80,177.04 L637.20,176.94 L640.46,176.45 L644.20,176.34 L647.70,176.03 L650.50,175.67 L653.07,175.92 L656.10,176.32 L659.91,176.06 L664.19,176.58 L668.70,176.57 L673.45,176.67 L678.43,176.74 L683.40,177.39 L688.43,177.18 L693.44,177.53 L698.00,177.82 L701.96,178.25 L705.46,177.71 L708.50,177.86 L710.99,177.57 L713.01,177.31 L714.80,177.02 L716.32,177.17 L717.60,177.12 L719.00,177.84 L720.62,178.65 L722.35,180.12 L724.20,181.72 L726.18,183.34 L728.28,185.97 L730.50,188.61 L732.93,191.13 L735.48,193.81 L737.90,196.16 L740.13,198.02 L742.23,199.71 L744.10,201.34 L745.60,201.91 L746.87,202.12 L748.30,202.32 L750.27,201.94 L752.40,201.47 L753.90,201.20 L753.40,228.40 L477.70,228.40Z" fill="#a6ff7e" stroke="none" stroke-width="1.3" stroke-linejoin="round" stroke-linecap="butt" />
<path d="M477.70,226.60 L480.37,226.17 L484.18,225.59 L488.00,225.41 L491.60,224.40 L495.22,224.04 L498.40,223.21 L500.90,222.26 L502.97,221.81 L504.90,220.68 L506.68,220.19 L508.32,219.14 L510.10,218.11 L512.17,216.92 L514.39,215.54 L516.60,213.34 L518.77,211.73 L520.93,210.29 L523.10,208.71 L525.27,206.54 L527.43,204.41 L529.60,202.83 L531.81,200.16 L534.03,198.72 L536.10,196.55 L537.88,195.08 L539.52,193.93 L541.30,192.97 L543.42,192.19 L545.68,190.64 L547.80,189.86 L549.64,188.85 L551.33,187.64 L553.00,186.83 L554.63,185.68 L556.24,184.96 L558.00,184.39 L560.00,184.09 L562.15,183.33 L564.30,182.77 L566.40,182.59 L568.50,182.23 L570.60,181.96 L572.74,182.34 L574.87,182.42 L576.90,182.12 L578.67,182.04 L580.32,181.57 L582.20,181.66 L584.52,181.96 L587.07,182.35 L589.50,183.44 L591.60,183.19 L593.58,183.66 L595.80,184.18 L598.52,184.13 L601.48,184.74 L604.20,184.68 L606.46,185.18 L608.48,185.18 L610.50,184.85 L612.53,184.75 L614.55,183.92 L616.80,183.64 L619.51,182.88 L622.44,182.07 L625.10,181.17 L627.23,180.60 L629.10,179.81 L631.00,178.68 L632.89,178.10 L634.80,177.04 L637.20,176.94 L640.46,176.45 L644.20,176.34 L647.70,176.03 L650.50,175.67 L653.07,175.92 L656.10,176.32 L659.91,176.06 L664.19,176.58 L668.70,176.57 L673.45,176.67 L678.43,176.74 L683.40,177.39 L688.43,177.18 L693.44,177.53 L698.00,177.82 L701.96,178.25 L705.46,177.71 L708.50,177.86 L710.99,177.57 L713.01,177.31 L714.80,177.02 L716.32,177.17 L717.60,177.12 L719.00,177.84 L720.62,178.65 L722.35,180.12 L724.20,181.72 L726.18,183.34 L728.28,185.97 L730.50,188.61 L732.93,191.13 L735.48,193.81 L737.90,196.16 L740.13,198.02 L742.23,199.71 L744.10,201.34 L745.60,201.91 L746.87,202.12 L748.30,202.32 L750.27,201.94 L752.40,201.47 L753.90,201.20" fill="none" stroke="#18c818" stroke-width="1.2" stroke-linejoin="round" stroke-linecap="butt" />
<path d="M477.70,227.40 L484.12,227.01 L493.13,226.46 L501.00,225.90 L506.10,225.41 L510.05,224.91 L514.00,224.40 L518.33,223.87 L522.67,223.31 L527.00,222.70 L531.26,222.01 L535.52,221.27 L540.00,220.50 L545.06,219.70 L550.35,218.89 L555.00,218.10 L558.24,217.41 L560.86,216.76 L564.30,216.00 L569.42,214.98 L575.38,213.85 L581.10,212.90 L586.23,212.28 L591.13,211.84 L595.80,211.40 L600.31,210.92 L604.59,210.44 L608.40,209.90 L611.30,209.37 L613.73,208.79 L616.80,207.90 L621.24,206.50 L626.33,204.81 L631.00,203.20 L634.74,201.85 L638.07,200.59 L641.40,199.30 L644.89,197.87 L648.40,196.41 L651.90,195.10 L655.40,194.04 L658.90,193.14 L662.40,192.30 L665.90,191.49 L669.40,190.73 L672.90,190.00 L676.54,189.29 L680.19,188.62 L683.40,188.00 L685.74,187.50 L687.66,187.06 L690.00,186.50 L693.21,185.71 L696.86,184.81 L700.50,183.90 L704.12,183.00 L707.74,182.09 L711.00,181.30 L713.80,180.56 L716.24,179.94 L718.30,179.70 L719.77,179.96 L720.85,180.60 L722.10,181.60 L723.64,182.94 L725.35,184.64 L727.40,186.70 L729.97,189.33 L732.89,192.32 L735.80,195.10 L738.73,197.63 L741.64,199.94 L744.10,201.60 L745.75,202.29 L746.95,202.32 L748.30,202.20 L750.27,202.01 L752.40,201.66 L753.90,201.40 L753.40,228.40 L477.70,228.40Z" fill="#5cd6ff" stroke="none" stroke-width="1.3" stroke-linejoin="round" stroke-linecap="butt" />
<path d="M477.70,227.40 L484.12,227.01 L493.13,226.46 L501.00,225.90 L506.10,225.41 L510.05,224.91 L514.00,224.40 L518.33,223.87 L522.67,223.31 L527.00,222.70 L531.26,222.01 L535.52,221.27 L540.00,220.50 L545.06,219.70 L550.35,218.89 L555.00,218.10 L558.24,217.41 L560.86,216.76 L564.30,216.00 L569.42,214.98 L575.38,213.85 L581.10,212.90 L586.23,212.28 L591.13,211.84 L595.80,211.40 L600.31,210.92 L604.59,210.44 L608.40,209.90 L611.30,209.37 L613.73,208.79 L616.80,207.90 L621.24,206.50 L626.33,204.81 L631.00,203.20 L634.74,201.85 L638.07,200.59 L641.40,199.30 L644.89,197.87 L648.40,196.41 L651.90,195.10 L655.40,194.04 L658.90,193.14 L662.40,192.30 L665.90,191.49 L669.40,190.73 L672.90,190.00 L676.54,189.29 L680.19,188.62 L683.40,188.00 L685.74,187.50 L687.66,187.06 L690.00,186.50 L693.21,185.71 L696.86,184.81 L700.50,183.90 L704.12,183.00 L707.74,182.09 L711.00,181.30 L713.80,180.56 L716.24,179.94 L718.30,179.70 L719.77,179.96 L720.85,180.60 L722.10,181.60 L723.64,182.94 L725.35,184.64 L727.40,186.70 L729.97,189.33 L732.89,192.32 L735.80,195.10 L738.73,197.63 L741.64,199.94 L744.10,201.60 L745.75,202.29 L746.95,202.32 L748.30,202.20 L750.27,202.01 L752.40,201.66 L753.90,201.40" fill="none" stroke="#1c9ee0" stroke-width="1.0" stroke-linejoin="round" stroke-linecap="butt" />
<path d="M477.70,228.00 L483.64,227.80 L492.17,227.51 L501.00,227.20 L509.95,226.86 L519.20,226.50 L527.00,226.20 L532.22,226.02 L536.00,225.89 L540.00,225.70 L544.67,225.40 L549.57,225.03 L555.00,224.60 L561.20,224.11 L567.93,223.56 L574.80,223.00 L581.94,222.43 L589.22,221.86 L595.80,221.30 L601.32,220.82 L606.14,220.37 L610.50,219.80 L614.33,219.05 L617.69,218.19 L621.00,217.30 L624.36,216.44 L627.66,215.56 L631.00,214.60 L634.43,213.53 L637.91,212.37 L641.40,211.20 L644.89,210.01 L648.40,208.80 L651.90,207.60 L655.40,206.41 L658.90,205.24 L662.40,204.10 L665.90,203.01 L669.40,201.96 L672.90,200.90 L676.40,199.82 L679.91,198.73 L683.40,197.60 L686.87,196.40 L690.33,195.17 L693.80,194.00 L697.37,192.93 L700.95,191.92 L704.30,190.90 L707.37,189.76 L710.21,188.61 L712.70,187.70 L714.71,187.13 L716.36,186.80 L717.90,186.70 L719.33,186.77 L720.66,187.06 L722.10,187.70 L723.67,188.77 L725.36,190.20 L727.40,191.90 L729.97,194.03 L732.89,196.44 L735.80,198.60 L738.73,200.40 L741.64,201.94 L744.10,203.00 L745.75,203.36 L746.95,203.24 L748.30,203.00 L750.27,202.70 L752.40,202.30 L753.90,202.00 L753.40,228.40 L477.70,228.40Z" fill="#ffc9c9" stroke="none" stroke-width="1.3" stroke-linejoin="round" stroke-linecap="butt" />
<path d="M477.70,228.00 L483.64,227.80 L492.17,227.51 L501.00,227.20 L509.95,226.86 L519.20,226.50 L527.00,226.20 L532.22,226.02 L536.00,225.89 L540.00,225.70 L544.67,225.40 L549.57,225.03 L555.00,224.60 L561.20,224.11 L567.93,223.56 L574.80,223.00 L581.94,222.43 L589.22,221.86 L595.80,221.30 L601.32,220.82 L606.14,220.37 L610.50,219.80 L614.33,219.05 L617.69,218.19 L621.00,217.30 L624.36,216.44 L627.66,215.56 L631.00,214.60 L634.43,213.53 L637.91,212.37 L641.40,211.20 L644.89,210.01 L648.40,208.80 L651.90,207.60 L655.40,206.41 L658.90,205.24 L662.40,204.10 L665.90,203.01 L669.40,201.96 L672.90,200.90 L676.40,199.82 L679.91,198.73 L683.40,197.60 L686.87,196.40 L690.33,195.17 L693.80,194.00 L697.37,192.93 L700.95,191.92 L704.30,190.90 L707.37,189.76 L710.21,188.61 L712.70,187.70 L714.71,187.13 L716.36,186.80 L717.90,186.70 L719.33,186.77 L720.66,187.06 L722.10,187.70 L723.67,188.77 L725.36,190.20 L727.40,191.90 L729.97,194.03 L732.89,196.44 L735.80,198.60 L738.73,200.40 L741.64,201.94 L744.10,203.00 L745.75,203.36 L746.95,203.24 L748.30,203.00 L750.27,202.70 L752.40,202.30 L753.90,202.00" fill="none" stroke="#ff2a2a" stroke-width="1.0" stroke-linejoin="round" stroke-linecap="butt" />
<path d="M477.70,226.60 L480.37,226.17 L484.18,225.59 L488.00,225.41 L491.60,224.40 L495.22,224.04 L498.40,223.21 L500.90,222.26 L502.97,221.81 L504.90,220.68 L506.68,220.19 L508.32,219.14 L510.10,218.11 L512.17,216.92 L514.39,215.54 L516.60,213.34 L518.77,211.73 L520.93,210.29 L523.10,208.71 L525.27,206.54 L527.43,204.41 L529.60,202.83 L531.81,200.16 L534.03,198.72 L536.10,196.55 L537.88,195.08 L539.52,193.93 L541.30,192.97 L543.42,192.19 L545.68,190.64 L547.80,189.86 L549.64,188.85 L551.33,187.64 L553.00,186.83 L554.63,185.68 L556.24,184.96 L558.00,184.39 L560.00,184.09 L562.15,183.33 L564.30,182.77 L566.40,182.59 L568.50,182.23 L570.60,181.96 L572.74,182.34 L574.87,182.42 L576.90,182.12 L578.67,182.04 L580.32,181.57 L582.20,181.66 L584.52,181.96 L587.07,182.35 L589.50,183.44 L591.60,183.19 L593.58,183.66 L595.80,184.18 L598.52,184.13 L601.48,184.74 L604.20,184.68 L606.46,185.18 L608.48,185.18 L610.50,184.85 L612.53,184.75 L614.55,183.92 L616.80,183.64 L619.51,182.88 L622.44,182.07 L625.10,181.17 L627.23,180.60 L629.10,179.81 L631.00,178.68 L632.89,178.10 L634.80,177.04 L637.20,176.94 L640.46,176.45 L644.20,176.34 L647.70,176.03 L650.50,175.67 L653.07,175.92 L656.10,176.32 L659.91,176.06 L664.19,176.58 L668.70,176.57 L673.45,176.67 L678.43,176.74 L683.40,177.39 L688.43,177.18 L693.44,177.53 L698.00,177.82 L701.96,178.25 L705.46,177.71 L708.50,177.86 L710.99,177.57 L713.01,177.31 L714.80,177.02 L716.32,177.17 L717.60,177.12 L719.00,177.84 L720.62,178.65 L722.35,180.12 L724.20,181.72 L726.18,183.34 L728.28,185.97 L730.50,188.61 L732.93,191.13 L735.48,193.81 L737.90,196.16 L740.13,198.02 L742.23,199.71 L744.10,201.34 L745.60,201.91 L746.87,202.12 L748.30,202.32 L750.27,201.94 L752.40,201.47 L753.90,201.20" fill="none" stroke="#111" stroke-width="2.4" stroke-linejoin="round" stroke-linecap="butt" />
</g>
<clipPath id="crb"><rect x="477.7" y="270.5" width="275.7" height="159.4"/></clipPath>
<g clip-path="url(#crb)">
<path d="M478.00,427.90 L480.57,427.82 L484.24,427.65 L488.00,427.08 L491.71,427.18 L495.51,426.74 L498.70,426.39 L500.87,425.95 L502.44,425.32 L504.00,424.85 L505.54,424.27 L507.08,424.04 L509.20,422.88 L512.31,421.37 L516.01,419.54 L519.70,417.63 L523.17,415.94 L526.63,414.03 L530.10,412.35 L533.59,410.91 L537.10,409.49 L540.60,408.33 L544.10,407.02 L547.60,406.41 L551.10,405.26 L554.83,403.85 L558.57,402.75 L561.60,402.02 L563.43,401.95 L564.56,402.14 L565.80,402.67 L567.46,402.49 L569.22,401.83 L571.00,401.69 L572.72,401.85 L574.46,402.46 L576.30,403.02 L578.25,403.01 L580.31,403.16 L582.60,402.93 L585.19,403.44 L588.00,404.72 L590.90,405.21 L593.82,405.41 L596.83,405.89 L600.00,406.06 L603.47,407.09 L607.10,408.24 L610.50,408.98 L613.46,409.52 L616.18,409.78 L618.90,410.03 L621.55,409.67 L624.20,409.43 L627.30,408.82 L631.31,408.58 L635.79,408.04 L639.80,407.86 L642.83,408.23 L645.40,408.58 L648.20,408.98 L651.39,409.68 L654.81,410.62 L658.70,411.62 L663.29,412.53 L668.35,413.94 L673.40,415.03 L678.19,415.83 L682.97,416.70 L688.00,417.69 L693.28,418.57 L698.81,419.67 L704.80,420.73 L711.64,421.48 L718.96,422.77 L725.80,423.74 L731.91,424.53 L737.56,424.93 L742.60,425.46 L747.22,425.97 L751.24,426.37 L754.00,426.80" fill="none" stroke="#16c816" stroke-width="2.1" stroke-linejoin="round" stroke-linecap="butt" />
<path d="M478.00,428.30 L484.30,427.97 L493.27,427.99 L502.00,427.84 L509.49,427.42 L516.75,426.73 L523.90,426.29 L530.94,425.73 L537.86,424.58 L544.80,424.20 L552.18,423.62 L559.57,422.82 L565.80,422.15 L570.08,421.43 L573.19,420.76 L576.30,420.67 L579.70,419.92 L583.10,419.76 L586.80,419.58 L591.10,419.28 L595.70,419.50 L600.00,419.87 L603.70,419.46 L607.10,418.69 L610.50,418.18 L614.00,417.67 L617.51,417.55 L621.00,416.98 L624.47,416.20 L627.93,416.27 L631.40,415.99 L635.13,415.33 L638.86,414.63 L641.90,414.23 L643.61,413.43 L644.62,412.81 L646.10,412.88 L648.59,412.25 L651.54,411.78 L654.50,411.76 L657.22,411.43 L659.94,411.79 L662.90,411.70 L666.40,410.95 L670.13,410.45 L673.40,409.98 L675.74,409.47 L677.61,409.24 L679.70,408.86 L682.39,409.10 L685.31,409.33 L688.00,410.35 L690.09,410.82 L691.96,411.85 L694.30,412.65 L697.57,413.24 L701.30,413.11 L704.80,413.25 L707.72,412.32 L710.40,411.33 L713.20,410.51 L716.41,409.74 L719.73,409.72 L722.60,409.61 L724.63,410.01 L726.21,411.31 L727.90,411.70 L730.00,412.47 L732.22,413.15 L734.20,413.63 L735.82,414.13 L737.20,414.91 L738.40,415.73 L739.39,416.74 L740.19,417.33 L740.90,418.94 L741.55,420.74 L742.11,423.09 L742.60,425.36 L742.64,426.58 L742.60,427.64 L743.60,428.46 L746.76,428.84 L750.96,428.52 L754.00,428.50" fill="none" stroke="#1896d6" stroke-width="2.1" stroke-linejoin="round" stroke-linecap="butt" />
<path d="M478.00,428.40 L500.81,428.31 L532.74,428.18 L560.00,428.00 L577.15,427.76 L589.63,427.47 L600.00,427.20 L608.41,426.99 L614.71,426.81 L621.00,426.60 L627.97,426.34 L634.93,426.06 L641.90,425.80 L648.89,425.59 L655.90,425.40 L662.90,425.20 L670.29,424.96 L677.69,424.70 L683.90,424.50 L688.15,424.38 L691.22,424.32 L694.30,424.30 L697.79,424.30 L701.30,424.35 L704.80,424.50 L708.30,424.80 L711.80,425.21 L715.30,425.60 L718.72,425.94 L722.14,426.26 L725.80,426.60 L729.73,426.98 L733.90,427.37 L738.40,427.70 L743.96,427.96 L749.84,428.16 L754.00,428.30" fill="none" stroke="#b088ff" stroke-width="2.0" stroke-linejoin="round" stroke-linecap="butt" />
<line x1="734.20" y1="373.80" x2="734.20" y2="428.40" stroke="#ff0000" stroke-width="1.5" stroke-linecap="butt"/>
<line x1="676.50" y1="391.60" x2="676.50" y2="428.40" stroke="#ff0000" stroke-width="1.2" stroke-linecap="butt" stroke-dasharray="2.2 2"/>
<path d="M478.00,428.40 L490.83,428.19 L508.75,427.77 L523.90,427.40 L532.71,427.16 L538.75,426.75 L544.80,426.41 L551.79,425.94 L558.80,425.62 L565.80,424.98 L573.09,424.47 L580.38,423.88 L586.80,423.00 L591.88,422.58 L596.09,422.20 L600.00,421.54 L603.70,420.51 L607.10,419.66 L610.50,418.88 L614.00,417.71 L617.51,416.68 L621.00,415.53 L624.47,414.75 L627.93,413.80 L631.40,412.76 L634.89,411.26 L638.40,410.21 L641.90,408.86 L645.40,407.30 L648.90,406.20 L652.40,404.79 L655.90,403.08 L659.40,401.93 L662.90,399.96 L666.40,397.80 L669.90,395.51 L673.40,392.83 L676.90,389.85 L680.41,387.11 L683.90,384.31 L687.37,381.48 L690.83,378.66 L694.30,375.83 L697.95,372.74 L701.61,369.10 L704.80,366.42 L707.29,364.26 L709.31,362.45 L711.10,361.13 L712.68,359.90 L714.02,358.71 L715.30,357.63 L716.54,357.33 L717.71,356.83 L718.90,356.79 L720.07,356.56 L721.24,357.05 L722.60,357.92 L724.21,359.84 L726.00,361.80 L727.90,364.25 L729.93,367.39 L732.06,370.95 L734.20,373.93 L736.34,376.12 L738.48,378.14 L740.50,380.27 L742.39,381.76 L744.16,383.18 L745.70,383.94 L746.81,384.44 L747.69,384.83 L748.80,384.67 L750.57,384.25 L752.57,384.12 L754.00,383.60" fill="none" stroke="#ff0000" stroke-width="2.2" stroke-linejoin="round" stroke-linecap="butt" />
</g>
<line x1="510.15" y1="228.40" x2="510.15" y2="224.70" stroke="#000" stroke-width="1.1" stroke-linecap="butt"/>
<line x1="510.15" y1="98.50" x2="510.15" y2="102.20" stroke="#000" stroke-width="1.1" stroke-linecap="butt"/>
<line x1="542.60" y1="228.40" x2="542.60" y2="221.60" stroke="#000" stroke-width="1.1" stroke-linecap="butt"/>
<line x1="542.60" y1="98.50" x2="542.60" y2="105.30" stroke="#000" stroke-width="1.1" stroke-linecap="butt"/>
<line x1="575.05" y1="228.40" x2="575.05" y2="224.70" stroke="#000" stroke-width="1.1" stroke-linecap="butt"/>
<line x1="575.05" y1="98.50" x2="575.05" y2="102.20" stroke="#000" stroke-width="1.1" stroke-linecap="butt"/>
<line x1="607.50" y1="228.40" x2="607.50" y2="221.60" stroke="#000" stroke-width="1.1" stroke-linecap="butt"/>
<line x1="607.50" y1="98.50" x2="607.50" y2="105.30" stroke="#000" stroke-width="1.1" stroke-linecap="butt"/>
<line x1="639.95" y1="228.40" x2="639.95" y2="224.70" stroke="#000" stroke-width="1.1" stroke-linecap="butt"/>
<line x1="639.95" y1="98.50" x2="639.95" y2="102.20" stroke="#000" stroke-width="1.1" stroke-linecap="butt"/>
<line x1="672.40" y1="228.40" x2="672.40" y2="221.60" stroke="#000" stroke-width="1.1" stroke-linecap="butt"/>
<line x1="672.40" y1="98.50" x2="672.40" y2="105.30" stroke="#000" stroke-width="1.1" stroke-linecap="butt"/>
<line x1="704.85" y1="228.40" x2="704.85" y2="224.70" stroke="#000" stroke-width="1.1" stroke-linecap="butt"/>
<line x1="704.85" y1="98.50" x2="704.85" y2="102.20" stroke="#000" stroke-width="1.1" stroke-linecap="butt"/>
<line x1="737.30" y1="228.40" x2="737.30" y2="221.60" stroke="#000" stroke-width="1.1" stroke-linecap="butt"/>
<line x1="737.30" y1="98.50" x2="737.30" y2="105.30" stroke="#000" stroke-width="1.1" stroke-linecap="butt"/>
<line x1="477.70" y1="219.42" x2="481.40" y2="219.42" stroke="#000" stroke-width="1.1" stroke-linecap="butt"/>
<line x1="753.40" y1="219.42" x2="749.70" y2="219.42" stroke="#000" stroke-width="1.1" stroke-linecap="butt"/>
<line x1="477.70" y1="210.44" x2="481.40" y2="210.44" stroke="#000" stroke-width="1.1" stroke-linecap="butt"/>
<line x1="753.40" y1="210.44" x2="749.70" y2="210.44" stroke="#000" stroke-width="1.1" stroke-linecap="butt"/>
<line x1="477.70" y1="201.46" x2="481.40" y2="201.46" stroke="#000" stroke-width="1.1" stroke-linecap="butt"/>
<line x1="753.40" y1="201.46" x2="749.70" y2="201.46" stroke="#000" stroke-width="1.1" stroke-linecap="butt"/>
<line x1="477.70" y1="192.48" x2="481.40" y2="192.48" stroke="#000" stroke-width="1.1" stroke-linecap="butt"/>
<line x1="753.40" y1="192.48" x2="749.70" y2="192.48" stroke="#000" stroke-width="1.1" stroke-linecap="butt"/>
<line x1="477.70" y1="183.50" x2="484.90" y2="183.50" stroke="#000" stroke-width="1.1" stroke-linecap="butt"/>
<line x1="753.40" y1="183.50" x2="746.20" y2="183.50" stroke="#000" stroke-width="1.1" stroke-linecap="butt"/>
<line x1="477.70" y1="174.52" x2="481.40" y2="174.52" stroke="#000" stroke-width="1.1" stroke-linecap="butt"/>
<line x1="753.40" y1="174.52" x2="749.70" y2="174.52" stroke="#000" stroke-width="1.1" stroke-linecap="butt"/>
<line x1="477.70" y1="165.54" x2="481.40" y2="165.54" stroke="#000" stroke-width="1.1" stroke-linecap="butt"/>
<line x1="753.40" y1="165.54" x2="749.70" y2="165.54" stroke="#000" stroke-width="1.1" stroke-linecap="butt"/>
<line x1="477.70" y1="156.56" x2="481.40" y2="156.56" stroke="#000" stroke-width="1.1" stroke-linecap="butt"/>
<line x1="753.40" y1="156.56" x2="749.70" y2="156.56" stroke="#000" stroke-width="1.1" stroke-linecap="butt"/>
<line x1="477.70" y1="147.58" x2="481.40" y2="147.58" stroke="#000" stroke-width="1.1" stroke-linecap="butt"/>
<line x1="753.40" y1="147.58" x2="749.70" y2="147.58" stroke="#000" stroke-width="1.1" stroke-linecap="butt"/>
<line x1="477.70" y1="138.60" x2="484.90" y2="138.60" stroke="#000" stroke-width="1.1" stroke-linecap="butt"/>
<line x1="753.40" y1="138.60" x2="746.20" y2="138.60" stroke="#000" stroke-width="1.1" stroke-linecap="butt"/>
<line x1="477.70" y1="129.62" x2="481.40" y2="129.62" stroke="#000" stroke-width="1.1" stroke-linecap="butt"/>
<line x1="753.40" y1="129.62" x2="749.70" y2="129.62" stroke="#000" stroke-width="1.1" stroke-linecap="butt"/>
<line x1="477.70" y1="120.64" x2="481.40" y2="120.64" stroke="#000" stroke-width="1.1" stroke-linecap="butt"/>
<line x1="753.40" y1="120.64" x2="749.70" y2="120.64" stroke="#000" stroke-width="1.1" stroke-linecap="butt"/>
<line x1="477.70" y1="111.66" x2="481.40" y2="111.66" stroke="#000" stroke-width="1.1" stroke-linecap="butt"/>
<line x1="753.40" y1="111.66" x2="749.70" y2="111.66" stroke="#000" stroke-width="1.1" stroke-linecap="butt"/>
<line x1="477.70" y1="102.68" x2="481.40" y2="102.68" stroke="#000" stroke-width="1.1" stroke-linecap="butt"/>
<line x1="753.40" y1="102.68" x2="749.70" y2="102.68" stroke="#000" stroke-width="1.1" stroke-linecap="butt"/>
<line x1="510.15" y1="428.40" x2="510.15" y2="424.70" stroke="#000" stroke-width="1.1" stroke-linecap="butt"/>
<line x1="510.15" y1="270.50" x2="510.15" y2="274.20" stroke="#000" stroke-width="1.1" stroke-linecap="butt"/>
<line x1="542.60" y1="428.40" x2="542.60" y2="421.60" stroke="#000" stroke-width="1.1" stroke-linecap="butt"/>
<line x1="542.60" y1="270.50" x2="542.60" y2="277.30" stroke="#000" stroke-width="1.1" stroke-linecap="butt"/>
<line x1="575.05" y1="428.40" x2="575.05" y2="424.70" stroke="#000" stroke-width="1.1" stroke-linecap="butt"/>
<line x1="575.05" y1="270.50" x2="575.05" y2="274.20" stroke="#000" stroke-width="1.1" stroke-linecap="butt"/>
<line x1="607.50" y1="428.40" x2="607.50" y2="421.60" stroke="#000" stroke-width="1.1" stroke-linecap="butt"/>
<line x1="607.50" y1="270.50" x2="607.50" y2="277.30" stroke="#000" stroke-width="1.1" stroke-linecap="butt"/>
<line x1="639.95" y1="428.40" x2="639.95" y2="424.70" stroke="#000" stroke-width="1.1" stroke-linecap="butt"/>
<line x1="639.95" y1="270.50" x2="639.95" y2="274.20" stroke="#000" stroke-width="1.1" stroke-linecap="butt"/>
<line x1="672.40" y1="428.40" x2="672.40" y2="421.60" stroke="#000" stroke-width="1.1" stroke-linecap="butt"/>
<line x1="672.40" y1="270.50" x2="672.40" y2="277.30" stroke="#000" stroke-width="1.1" stroke-linecap="butt"/>
<line x1="704.85" y1="428.40" x2="704.85" y2="424.70" stroke="#000" stroke-width="1.1" stroke-linecap="butt"/>
<line x1="704.85" y1="270.50" x2="704.85" y2="274.20" stroke="#000" stroke-width="1.1" stroke-linecap="butt"/>
<line x1="737.30" y1="428.40" x2="737.30" y2="421.60" stroke="#000" stroke-width="1.1" stroke-linecap="butt"/>
<line x1="737.30" y1="270.50" x2="737.30" y2="277.30" stroke="#000" stroke-width="1.1" stroke-linecap="butt"/>
<line x1="477.70" y1="421.54" x2="481.40" y2="421.54" stroke="#000" stroke-width="1.1" stroke-linecap="butt"/>
<line x1="753.40" y1="421.54" x2="749.70" y2="421.54" stroke="#000" stroke-width="1.1" stroke-linecap="butt"/>
<line x1="477.70" y1="414.68" x2="481.40" y2="414.68" stroke="#000" stroke-width="1.1" stroke-linecap="butt"/>
<line x1="753.40" y1="414.68" x2="749.70" y2="414.68" stroke="#000" stroke-width="1.1" stroke-linecap="butt"/>
<line x1="477.70" y1="407.82" x2="481.40" y2="407.82" stroke="#000" stroke-width="1.1" stroke-linecap="butt"/>
<line x1="753.40" y1="407.82" x2="749.70" y2="407.82" stroke="#000" stroke-width="1.1" stroke-linecap="butt"/>
<line x1="477.70" y1="400.96" x2="481.40" y2="400.96" stroke="#000" stroke-width="1.1" stroke-linecap="butt"/>
<line x1="753.40" y1="400.96" x2="749.70" y2="400.96" stroke="#000" stroke-width="1.1" stroke-linecap="butt"/>
<line x1="477.70" y1="394.10" x2="484.90" y2="394.10" stroke="#000" stroke-width="1.1" stroke-linecap="butt"/>
<line x1="753.40" y1="394.10" x2="746.20" y2="394.10" stroke="#000" stroke-width="1.1" stroke-linecap="butt"/>
<line x1="477.70" y1="387.24" x2="481.40" y2="387.24" stroke="#000" stroke-width="1.1" stroke-linecap="butt"/>
<line x1="753.40" y1="387.24" x2="749.70" y2="387.24" stroke="#000" stroke-width="1.1" stroke-linecap="butt"/>
<line x1="477.70" y1="380.38" x2="481.40" y2="380.38" stroke="#000" stroke-width="1.1" stroke-linecap="butt"/>
<line x1="753.40" y1="380.38" x2="749.70" y2="380.38" stroke="#000" stroke-width="1.1" stroke-linecap="butt"/>
<line x1="477.70" y1="373.52" x2="481.40" y2="373.52" stroke="#000" stroke-width="1.1" stroke-linecap="butt"/>
<line x1="753.40" y1="373.52" x2="749.70" y2="373.52" stroke="#000" stroke-width="1.1" stroke-linecap="butt"/>
<line x1="477.70" y1="366.66" x2="481.40" y2="366.66" stroke="#000" stroke-width="1.1" stroke-linecap="butt"/>
<line x1="753.40" y1="366.66" x2="749.70" y2="366.66" stroke="#000" stroke-width="1.1" stroke-linecap="butt"/>
<line x1="477.70" y1="359.80" x2="484.90" y2="359.80" stroke="#000" stroke-width="1.1" stroke-linecap="butt"/>
<line x1="753.40" y1="359.80" x2="746.20" y2="359.80" stroke="#000" stroke-width="1.1" stroke-linecap="butt"/>
<line x1="477.70" y1="352.94" x2="481.40" y2="352.94" stroke="#000" stroke-width="1.1" stroke-linecap="butt"/>
<line x1="753.40" y1="352.94" x2="749.70" y2="352.94" stroke="#000" stroke-width="1.1" stroke-linecap="butt"/>
<line x1="477.70" y1="346.08" x2="481.40" y2="346.08" stroke="#000" stroke-width="1.1" stroke-linecap="butt"/>
<line x1="753.40" y1="346.08" x2="749.70" y2="346.08" stroke="#000" stroke-width="1.1" stroke-linecap="butt"/>
<line x1="477.70" y1="339.22" x2="481.40" y2="339.22" stroke="#000" stroke-width="1.1" stroke-linecap="butt"/>
<line x1="753.40" y1="339.22" x2="749.70" y2="339.22" stroke="#000" stroke-width="1.1" stroke-linecap="butt"/>
<line x1="477.70" y1="332.36" x2="481.40" y2="332.36" stroke="#000" stroke-width="1.1" stroke-linecap="butt"/>
<line x1="753.40" y1="332.36" x2="749.70" y2="332.36" stroke="#000" stroke-width="1.1" stroke-linecap="butt"/>
<line x1="477.70" y1="325.50" x2="484.90" y2="325.50" stroke="#000" stroke-width="1.1" stroke-linecap="butt"/>
<line x1="753.40" y1="325.50" x2="746.20" y2="325.50" stroke="#000" stroke-width="1.1" stroke-linecap="butt"/>
<line x1="477.70" y1="318.64" x2="481.40" y2="318.64" stroke="#000" stroke-width="1.1" stroke-linecap="butt"/>
<line x1="753.40" y1="318.64" x2="749.70" y2="318.64" stroke="#000" stroke-width="1.1" stroke-linecap="butt"/>
<line x1="477.70" y1="311.78" x2="481.40" y2="311.78" stroke="#000" stroke-width="1.1" stroke-linecap="butt"/>
<line x1="753.40" y1="311.78" x2="749.70" y2="311.78" stroke="#000" stroke-width="1.1" stroke-linecap="butt"/>
<line x1="477.70" y1="304.92" x2="481.40" y2="304.92" stroke="#000" stroke-width="1.1" stroke-linecap="butt"/>
<line x1="753.40" y1="304.92" x2="749.70" y2="304.92" stroke="#000" stroke-width="1.1" stroke-linecap="butt"/>
<line x1="477.70" y1="298.06" x2="481.40" y2="298.06" stroke="#000" stroke-width="1.1" stroke-linecap="butt"/>
<line x1="753.40" y1="298.06" x2="749.70" y2="298.06" stroke="#000" stroke-width="1.1" stroke-linecap="butt"/>
<line x1="477.70" y1="291.20" x2="484.90" y2="291.20" stroke="#000" stroke-width="1.1" stroke-linecap="butt"/>
<line x1="753.40" y1="291.20" x2="746.20" y2="291.20" stroke="#000" stroke-width="1.1" stroke-linecap="butt"/>
<line x1="477.70" y1="284.34" x2="481.40" y2="284.34" stroke="#000" stroke-width="1.1" stroke-linecap="butt"/>
<line x1="753.40" y1="284.34" x2="749.70" y2="284.34" stroke="#000" stroke-width="1.1" stroke-linecap="butt"/>
<line x1="477.70" y1="277.48" x2="481.40" y2="277.48" stroke="#000" stroke-width="1.1" stroke-linecap="butt"/>
<line x1="753.40" y1="277.48" x2="749.70" y2="277.48" stroke="#000" stroke-width="1.1" stroke-linecap="butt"/>
<rect x="477.70" y="98.50" width="275.70" height="129.90" fill="none" stroke="#000" stroke-width="1.25"/>
<rect x="477.70" y="270.50" width="275.70" height="157.90" fill="none" stroke="#000" stroke-width="1.25"/>
<text x="177.60" y="23.80" font-family='"Liberation Serif", serif' font-size="20.5" font-weight="normal" font-style="normal" fill="#000" textLength="40.10" lengthAdjust="spacingAndGlyphs" stroke="#000" stroke-width="0.95">MOA</text>
<text x="218.40" y="23.80" font-family='"Liberation Serif", serif' font-size="20.5" font-weight="normal" font-style="normal" fill="#000" textLength="14.60" lengthAdjust="spacingAndGlyphs" stroke="#000" stroke-width="0.3">−</text>
<text x="233.90" y="23.80" font-family='"Liberation Serif", serif' font-size="20.5" font-weight="normal" font-style="normal" fill="#000" textLength="48.20" lengthAdjust="spacingAndGlyphs" stroke="#000" stroke-width="0.35">2008</text>
<text x="283.20" y="23.80" font-family='"Liberation Serif", serif' font-size="20.5" font-weight="normal" font-style="normal" fill="#000" textLength="14.60" lengthAdjust="spacingAndGlyphs" stroke="#000" stroke-width="0.3">−</text>
<text x="299.00" y="23.80" font-family='"Liberation Serif", serif' font-size="20.5" font-weight="normal" font-style="normal" fill="#000" textLength="39.80" lengthAdjust="spacingAndGlyphs" stroke="#000" stroke-width="0.8">BLG</text>
<text x="339.60" y="23.80" font-family='"Liberation Serif", serif' font-size="20.5" font-weight="normal" font-style="normal" fill="#000" textLength="14.40" lengthAdjust="spacingAndGlyphs" stroke="#000" stroke-width="0.3">−</text>
<text x="355.40" y="23.80" font-family='"Liberation Serif", serif' font-size="20.5" font-weight="normal" font-style="normal" fill="#000" textLength="31.70" lengthAdjust="spacingAndGlyphs" stroke="#000" stroke-width="0.4">310</text>
<text x="399.50" y="23.80" font-family='"Liberation Serif", serif' font-size="20.5" font-weight="normal" font-style="normal" fill="#000" textLength="12.90" lengthAdjust="spacingAndGlyphs" stroke="#000" stroke-width="0.5">−</text>
<text x="424.00" y="23.80" font-family='"Liberation Serif", serif' font-size="20.5" font-weight="normal" font-style="normal" fill="#000" textLength="50.40" lengthAdjust="spacingAndGlyphs" stroke="#000" stroke-width="0.5">Prior</text>
<text x="486.30" y="23.80" font-family='"Liberation Serif", serif' font-size="20.5" font-weight="normal" font-style="normal" fill="#000" textLength="122.70" lengthAdjust="spacingAndGlyphs" stroke="#000" stroke-width="0.5">Distribution</text>
<text x="478.30" y="47.80" font-family='"Liberation Serif", serif' font-size="16" font-weight="normal" font-style="normal" fill="#000" textLength="39.70" lengthAdjust="spacingAndGlyphs" stroke="#000" stroke-width="0.6">(w/o</text>
<text x="526.00" y="47.80" font-family='"Liberation Serif", serif' font-size="16" font-weight="normal" font-style="italic" fill="#000" textLength="12.90" lengthAdjust="spacingAndGlyphs" stroke="#000" stroke-width="0.5">H</text>
<text x="540.00" y="53.60" font-family='"Liberation Sans", sans-serif' font-size="10.5" font-weight="bold" font-style="normal" fill="#000" textLength="39.30" lengthAdjust="spacingAndGlyphs" >ex,obs</text>
<text x="587.70" y="47.80" font-family='"Liberation Serif", serif' font-size="16" font-weight="normal" font-style="normal" fill="#000" textLength="86.30" lengthAdjust="spacingAndGlyphs" stroke="#000" stroke-width="0.6">constrain)</text>
<text x="107.40" y="77.00" font-family='"Liberation Serif", serif' font-size="16.5" font-weight="normal" font-style="normal" fill="#000" textLength="36.60" lengthAdjust="spacingAndGlyphs" stroke="#000" stroke-width="0.7">Mass</text>
<text x="146.00" y="77.00" font-family='"Liberation Serif", serif' font-size="16.5" font-weight="normal" font-style="normal" fill="#000" textLength="12.20" lengthAdjust="spacingAndGlyphs" stroke="#000" stroke-width="0.45">−</text>
<text x="159.20" y="77.00" font-family='"Liberation Serif", serif' font-size="16.5" font-weight="normal" font-style="normal" fill="#000" textLength="70.20" lengthAdjust="spacingAndGlyphs" stroke="#000" stroke-width="0.45">Distance</text>
<text x="240.40" y="77.00" font-family='"Liberation Serif", serif' font-size="16.5" font-weight="normal" font-style="normal" fill="#000" textLength="99.80" lengthAdjust="spacingAndGlyphs" stroke="#000" stroke-width="0.45">distribution</text>
<text x="527.90" y="76.40" font-family='"Liberation Serif", serif' font-size="16" font-weight="normal" font-style="normal" fill="#000" textLength="85.50" lengthAdjust="spacingAndGlyphs" stroke="#000" stroke-width="0.45">Magnitude</text>
<text x="624.40" y="76.40" font-family='"Liberation Serif", serif' font-size="16" font-weight="normal" font-style="normal" fill="#000" textLength="99.10" lengthAdjust="spacingAndGlyphs" stroke="#000" stroke-width="0.45">distribution</text>
<text x="199.80" y="103.40" font-family='"Liberation Sans", sans-serif' font-size="14.4" font-weight="bold" font-style="normal" fill="#000" textLength="34.30" lengthAdjust="spacingAndGlyphs" stroke="#fff" stroke-width="0.15" paint-order="fill stroke">5000</text>
<text x="304.70" y="103.50" font-family='"Liberation Serif", serif' font-size="15.5" font-weight="normal" font-style="normal" fill="#000" textLength="16.00" lengthAdjust="spacingAndGlyphs" stroke="#000" stroke-width="0.6">10</text>
<text x="321.10" y="97.00" font-family='"Liberation Serif", serif' font-size="11.8" font-weight="normal" font-style="normal" fill="#000" textLength="6.20" lengthAdjust="spacingAndGlyphs" stroke="#000" stroke-width="0.6">4</text>
<text x="199.80" y="445.40" font-family='"Liberation Sans", sans-serif' font-size="14.4" font-weight="bold" font-style="normal" fill="#000" textLength="34.50" lengthAdjust="spacingAndGlyphs" stroke="#fff" stroke-width="0.15" paint-order="fill stroke">5000</text>
<text x="304.70" y="445.80" font-family='"Liberation Serif", serif' font-size="15.5" font-weight="normal" font-style="normal" fill="#000" textLength="16.00" lengthAdjust="spacingAndGlyphs" stroke="#000" stroke-width="0.6">10</text>
<text x="321.10" y="439.10" font-family='"Liberation Serif", serif' font-size="11.8" font-weight="normal" font-style="normal" fill="#000" textLength="6.20" lengthAdjust="spacingAndGlyphs" stroke="#000" stroke-width="0.6">4</text>
<text x="57.40" y="445.40" font-family='"Liberation Sans", sans-serif' font-size="14.4" font-weight="bold" font-style="normal" fill="#000" text-anchor="middle" textLength="20.50" lengthAdjust="spacingAndGlyphs" stroke="#fff" stroke-width="0.15" paint-order="fill stroke">0.2</text>
<text x="90.30" y="445.40" font-family='"Liberation Sans", sans-serif' font-size="14.4" font-weight="bold" font-style="normal" fill="#000" text-anchor="middle" textLength="20.50" lengthAdjust="spacingAndGlyphs" stroke="#fff" stroke-width="0.15" paint-order="fill stroke">0.1</text>
<text x="123.30" y="445.40" font-family='"Liberation Sans", sans-serif' font-size="14.4" font-weight="bold" font-style="normal" fill="#000" text-anchor="middle" textLength="7.60" lengthAdjust="spacingAndGlyphs" stroke="#fff" stroke-width="0.15" paint-order="fill stroke">0</text>
<text x="33.50" y="231.10" font-family='"Liberation Sans", sans-serif' font-size="14.4" font-weight="bold" font-style="normal" fill="#000" text-anchor="middle" textLength="7.60" lengthAdjust="spacingAndGlyphs" transform="rotate(-90 33.50 231.10)" stroke="#fff" stroke-width="0.15" paint-order="fill stroke">1</text>
<text x="33.50" y="331.00" font-family='"Liberation Sans", sans-serif' font-size="14.4" font-weight="bold" font-style="normal" fill="#000" text-anchor="middle" textLength="20.50" lengthAdjust="spacingAndGlyphs" transform="rotate(-90 33.50 331.00)" stroke="#fff" stroke-width="0.15" paint-order="fill stroke">0.5</text>
<text x="114.40" y="125.40" font-family='"Liberation Sans", sans-serif' font-size="14.4" font-weight="bold" font-style="normal" fill="#000" text-anchor="middle" textLength="28.30" lengthAdjust="spacingAndGlyphs" transform="rotate(-90 114.40 125.40)" stroke="#fff" stroke-width="0.15" paint-order="fill stroke">0.05</text>
<text x="114.40" y="191.40" font-family='"Liberation Sans", sans-serif' font-size="14.4" font-weight="bold" font-style="normal" fill="#000" text-anchor="middle" textLength="7.60" lengthAdjust="spacingAndGlyphs" transform="rotate(-90 114.40 191.40)" stroke="#fff" stroke-width="0.15" paint-order="fill stroke">0</text>
<text x="184.90" y="463.00" font-family='"Liberation Serif", serif' font-size="15.5" font-weight="normal" font-style="normal" fill="#000" textLength="96.90" lengthAdjust="spacingAndGlyphs" stroke="#000" stroke-width="0.6">Distance (pc)</text>
<text x="64.60" y="462.80" font-family='"Liberation Serif", serif' font-size="15" font-weight="normal" font-style="italic" fill="#000" textLength="27.30" lengthAdjust="spacingAndGlyphs" stroke="#000" stroke-width="0.5">P(M</text>
<text x="92.00" y="467.00" font-family='"Liberation Serif", serif' font-size="11" font-weight="bold" font-style="italic" fill="#000" textLength="6.30" lengthAdjust="spacingAndGlyphs" >L</text>
<text x="99.20" y="462.80" font-family='"Liberation Serif", serif' font-size="15" font-weight="normal" font-style="italic" fill="#000" textLength="4.80" lengthAdjust="spacingAndGlyphs" stroke="#000" stroke-width="0.5">)</text>
<text x="20.60" y="333.90" font-family='"Liberation Serif", serif' font-size="14.5" font-weight="normal" font-style="normal" fill="#000" textLength="31.50" lengthAdjust="spacingAndGlyphs" transform="rotate(-90 20.60 333.90)" stroke="#000" stroke-width="0.6">Mass</text>
<text x="20.60" y="294.80" font-family='"Liberation Serif", serif' font-size="14.5" font-weight="normal" font-style="normal" fill="#000" textLength="17.20" lengthAdjust="spacingAndGlyphs" transform="rotate(-90 20.60 294.80)" stroke="#000" stroke-width="0.6">(M</text>
<circle cx="22.3" cy="273.9" r="2.7" fill="none" stroke="#000" stroke-width="1.0"/><circle cx="22.3" cy="273.9" r="0.8" fill="#000"/>
<text x="20.60" y="270.40" font-family='"Liberation Serif", serif' font-size="14.5" font-weight="normal" font-style="normal" fill="#000" textLength="5.00" lengthAdjust="spacingAndGlyphs" transform="rotate(-90 20.60 270.40)" stroke="#000" stroke-width="0.6">)</text>
<text x="97.30" y="167.50" font-family='"Liberation Serif", serif' font-size="14.5" font-weight="normal" font-style="italic" fill="#000" textLength="25.50" lengthAdjust="spacingAndGlyphs" transform="rotate(-90 97.30 167.50)" stroke="#000" stroke-width="0.5">P(D</text>
<text x="101.80" y="141.60" font-family='"Liberation Serif", serif' font-size="10.5" font-weight="bold" font-style="italic" fill="#000" textLength="6.00" lengthAdjust="spacingAndGlyphs" transform="rotate(-90 101.80 141.60)" >L</text>
<text x="97.30" y="135.00" font-family='"Liberation Serif", serif' font-size="14.5" font-weight="normal" font-style="italic" fill="#000" textLength="4.80" lengthAdjust="spacingAndGlyphs" transform="rotate(-90 97.30 135.00)" stroke="#000" stroke-width="0.5">)</text>
<text x="134.00" y="128.10" font-family='"Liberation Serif", serif' font-size="12.5" font-weight="normal" font-style="normal" fill="#ff0000" textLength="92.30" lengthAdjust="spacingAndGlyphs" stroke="#ff0000" stroke-width="0.6">Lens distance</text>
<text x="60.50" y="411.50" font-family='"Liberation Serif", serif' font-size="12.5" font-weight="normal" font-style="normal" fill="#ff0000" textLength="70.20" lengthAdjust="spacingAndGlyphs" transform="rotate(-90 60.50 411.50)" stroke="#ff0000" stroke-width="0.6">Lens mass</text>
<line x1="349.20" y1="213.60" x2="372.00" y2="213.60" stroke="#0000ff" stroke-width="1.6" stroke-linecap="butt"/>
<line x1="349.20" y1="226.70" x2="358.10" y2="226.70" stroke="#0000ff" stroke-width="1.6" stroke-linecap="butt"/>
<line x1="365.40" y1="226.70" x2="372.00" y2="226.70" stroke="#0000ff" stroke-width="1.6" stroke-linecap="butt"/>
<text x="375.90" y="227.00" font-family='"Liberation Sans", sans-serif' font-size="13" font-weight="bold" font-style="italic" fill="#0000ff" textLength="7.00" lengthAdjust="spacingAndGlyphs" >θ</text>
<text x="383.60" y="231.40" font-family='"Liberation Serif", serif' font-size="9.8" font-weight="bold" font-style="normal" fill="#0000ff" textLength="25.60" lengthAdjust="spacingAndGlyphs" >E,obs</text>
<rect x="349.2" y="246.1" width="22.8" height="13.2" fill="#e0e0e0"/>
<line x1="349.20" y1="246.10" x2="372.00" y2="246.10" stroke="#111" stroke-width="1.5" stroke-linecap="butt"/>
<line x1="349.20" y1="259.30" x2="358.10" y2="259.30" stroke="#111" stroke-width="1.5" stroke-linecap="butt"/>
<line x1="365.40" y1="259.30" x2="372.00" y2="259.30" stroke="#111" stroke-width="1.5" stroke-linecap="butt"/>
<text x="375.90" y="259.90" font-family='"Liberation Serif", serif' font-size="13.8" font-weight="normal" font-style="italic" fill="#000" textLength="9.40" lengthAdjust="spacingAndGlyphs" stroke="#000" stroke-width="0.5">H</text>
<text x="385.80" y="264.40" font-family='"Liberation Sans", sans-serif' font-size="9.6" font-weight="bold" font-style="normal" fill="#000" textLength="31.40" lengthAdjust="spacingAndGlyphs" >ex,obs</text>
<line x1="349.20" y1="278.70" x2="372.00" y2="278.70" stroke="#ff6262" stroke-width="1.4" stroke-linecap="butt"/>
<line x1="349.20" y1="291.80" x2="358.10" y2="291.80" stroke="#ff6262" stroke-width="1.4" stroke-linecap="butt"/>
<line x1="365.40" y1="291.80" x2="372.00" y2="291.80" stroke="#ff6262" stroke-width="1.4" stroke-linecap="butt"/>
<text x="375.90" y="292.60" font-family='"Liberation Serif", serif' font-size="13.8" font-weight="normal" font-style="italic" fill="#ff6262" textLength="9.40" lengthAdjust="spacingAndGlyphs" stroke="#ff6262" stroke-width="0.5">H</text>
<text x="386.60" y="296.60" font-family='"Liberation Sans", sans-serif' font-size="9.6" font-weight="bold" font-style="italic" fill="#ff6262" textLength="5.20" lengthAdjust="spacingAndGlyphs" >L</text>
<circle cx="349.8" cy="318.2" r="2.8" fill="none" stroke="#ff6262" stroke-width="0.7"/>
<text x="353.80" y="325.20" font-family='"Liberation Serif", serif' font-size="13.6" font-weight="bold" font-style="italic" fill="#ff6262" textLength="8.80" lengthAdjust="spacingAndGlyphs" >D</text>
<text x="378.70" y="325.20" font-family='"Liberation Serif", serif' font-size="13.6" font-weight="bold" font-style="italic" fill="#ff6262" textLength="10.90" lengthAdjust="spacingAndGlyphs" >M</text>
<line x1="370.10" y1="321.10" x2="377.90" y2="321.10" stroke="#ff6262" stroke-width="1.2" stroke-linecap="butt"/>
<text x="363.60" y="329.20" font-family='"Liberation Serif", serif' font-size="10.2" font-weight="bold" font-style="italic" fill="#ff6262" textLength="5.30" lengthAdjust="spacingAndGlyphs" >L</text>
<text x="390.00" y="329.20" font-family='"Liberation Serif", serif' font-size="10.2" font-weight="bold" font-style="italic" fill="#ff6262" textLength="5.50" lengthAdjust="spacingAndGlyphs" >L</text>
<rect x="347.2" y="347.7" width="5.2" height="5.2" fill="none" stroke="#3aa6da" stroke-width="0.7"/>
<text x="353.80" y="357.30" font-family='"Liberation Serif", serif' font-size="13.6" font-weight="bold" font-style="italic" fill="#1c98d8" textLength="9.20" lengthAdjust="spacingAndGlyphs" >D</text>
<text x="395.00" y="357.30" font-family='"Liberation Serif", serif' font-size="13.6" font-weight="bold" font-style="italic" fill="#1c98d8" textLength="10.60" lengthAdjust="spacingAndGlyphs" >M</text>
<line x1="385.90" y1="353.20" x2="393.80" y2="353.20" stroke="#1c98d8" stroke-width="1.2" stroke-linecap="butt"/>
<text x="363.60" y="361.10" font-family='"Liberation Serif", serif' font-size="10.5" font-weight="bold" font-style="normal" fill="#1c98d8" textLength="21.40" lengthAdjust="spacingAndGlyphs" >amb</text>
<text x="406.30" y="361.10" font-family='"Liberation Serif", serif' font-size="10.5" font-weight="bold" font-style="normal" fill="#1c98d8" textLength="21.00" lengthAdjust="spacingAndGlyphs" >amb</text>
<path d="M349.8,379.5 L352.7,384.5 L346.9,384.5Z" fill="none" stroke="#2fce2f" stroke-width="0.7"/>
<text x="353.80" y="389.60" font-family='"Liberation Serif", serif' font-size="13.6" font-weight="bold" font-style="italic" fill="#1fcc1f" textLength="8.80" lengthAdjust="spacingAndGlyphs" >D</text>
<text x="385.80" y="389.60" font-family='"Liberation Serif", serif' font-size="13.6" font-weight="bold" font-style="italic" fill="#1fcc1f" textLength="10.60" lengthAdjust="spacingAndGlyphs" >M</text>
<line x1="376.60" y1="385.50" x2="384.50" y2="385.50" stroke="#1fcc1f" stroke-width="1.2" stroke-linecap="butt"/>
<text x="363.60" y="393.60" font-family='"Liberation Serif", serif' font-size="10.2" font-weight="bold" font-style="italic" fill="#1fcc1f" textLength="11.80" lengthAdjust="spacingAndGlyphs" >SC</text>
<text x="396.80" y="393.60" font-family='"Liberation Serif", serif' font-size="10.2" font-weight="bold" font-style="italic" fill="#1fcc1f" textLength="13.40" lengthAdjust="spacingAndGlyphs" >SC</text>
<path d="M349.8,411.1 L352.0,414.8 L349.8,418.5 L347.6,414.8Z" fill="none" stroke="#b79cff" stroke-width="0.7"/>
<text x="353.80" y="421.80" font-family='"Liberation Serif", serif' font-size="13.6" font-weight="bold" font-style="italic" fill="#b48cff" textLength="8.80" lengthAdjust="spacingAndGlyphs" >D</text>
<text x="385.00" y="421.80" font-family='"Liberation Serif", serif' font-size="13.6" font-weight="bold" font-style="italic" fill="#b48cff" textLength="10.60" lengthAdjust="spacingAndGlyphs" >M</text>
<line x1="376.00" y1="417.70" x2="383.90" y2="417.70" stroke="#b48cff" stroke-width="1.2" stroke-linecap="butt"/>
<text x="363.60" y="425.80" font-family='"Liberation Serif", serif' font-size="10.2" font-weight="bold" font-style="italic" fill="#b48cff" textLength="11.00" lengthAdjust="spacingAndGlyphs" >LC</text>
<text x="396.00" y="425.80" font-family='"Liberation Serif", serif' font-size="10.2" font-weight="bold" font-style="italic" fill="#b48cff" textLength="12.60" lengthAdjust="spacingAndGlyphs" >LC</text>
<text x="477.40" y="245.30" font-family='"Liberation Sans", sans-serif' font-size="14.4" font-weight="bold" font-style="normal" fill="#000" text-anchor="middle" textLength="15.60" lengthAdjust="spacingAndGlyphs" stroke="#fff" stroke-width="0.15" paint-order="fill stroke">16</text>
<text x="542.30" y="245.30" font-family='"Liberation Sans", sans-serif' font-size="14.4" font-weight="bold" font-style="normal" fill="#000" text-anchor="middle" textLength="15.60" lengthAdjust="spacingAndGlyphs" stroke="#fff" stroke-width="0.15" paint-order="fill stroke">18</text>
<text x="607.20" y="245.30" font-family='"Liberation Sans", sans-serif' font-size="14.4" font-weight="bold" font-style="normal" fill="#000" text-anchor="middle" textLength="15.60" lengthAdjust="spacingAndGlyphs" stroke="#fff" stroke-width="0.15" paint-order="fill stroke">20</text>
<text x="672.10" y="245.30" font-family='"Liberation Sans", sans-serif' font-size="14.4" font-weight="bold" font-style="normal" fill="#000" text-anchor="middle" textLength="15.60" lengthAdjust="spacingAndGlyphs" stroke="#fff" stroke-width="0.15" paint-order="fill stroke">22</text>
<text x="737.00" y="245.30" font-family='"Liberation Sans", sans-serif' font-size="14.4" font-weight="bold" font-style="normal" fill="#000" text-anchor="middle" textLength="15.60" lengthAdjust="spacingAndGlyphs" stroke="#fff" stroke-width="0.15" paint-order="fill stroke">24</text>
<text x="477.40" y="445.40" font-family='"Liberation Sans", sans-serif' font-size="14.4" font-weight="bold" font-style="normal" fill="#000" text-anchor="middle" textLength="15.60" lengthAdjust="spacingAndGlyphs" stroke="#fff" stroke-width="0.15" paint-order="fill stroke">16</text>
<text x="542.30" y="445.40" font-family='"Liberation Sans", sans-serif' font-size="14.4" font-weight="bold" font-style="normal" fill="#000" text-anchor="middle" textLength="15.60" lengthAdjust="spacingAndGlyphs" stroke="#fff" stroke-width="0.15" paint-order="fill stroke">18</text>
<text x="607.20" y="445.40" font-family='"Liberation Sans", sans-serif' font-size="14.4" font-weight="bold" font-style="normal" fill="#000" text-anchor="middle" textLength="15.60" lengthAdjust="spacingAndGlyphs" stroke="#fff" stroke-width="0.15" paint-order="fill stroke">20</text>
<text x="672.10" y="445.40" font-family='"Liberation Sans", sans-serif' font-size="14.4" font-weight="bold" font-style="normal" fill="#000" text-anchor="middle" textLength="15.60" lengthAdjust="spacingAndGlyphs" stroke="#fff" stroke-width="0.15" paint-order="fill stroke">22</text>
<text x="737.00" y="445.40" font-family='"Liberation Sans", sans-serif' font-size="14.4" font-weight="bold" font-style="normal" fill="#000" text-anchor="middle" textLength="15.60" lengthAdjust="spacingAndGlyphs" stroke="#fff" stroke-width="0.15" paint-order="fill stroke">24</text>
<text x="468.30" y="138.50" font-family='"Liberation Sans", sans-serif' font-size="14.4" font-weight="bold" font-style="normal" fill="#000" text-anchor="middle" textLength="27.00" lengthAdjust="spacingAndGlyphs" transform="rotate(-90 468.30 138.50)" stroke="#fff" stroke-width="0.15" paint-order="fill stroke">0.02</text>
<text x="468.30" y="183.20" font-family='"Liberation Sans", sans-serif' font-size="14.4" font-weight="bold" font-style="normal" fill="#000" text-anchor="middle" textLength="27.00" lengthAdjust="spacingAndGlyphs" transform="rotate(-90 468.30 183.20)" stroke="#fff" stroke-width="0.15" paint-order="fill stroke">0.01</text>
<text x="468.30" y="228.60" font-family='"Liberation Sans", sans-serif' font-size="14.4" font-weight="bold" font-style="normal" fill="#000" text-anchor="middle" textLength="7.60" lengthAdjust="spacingAndGlyphs" transform="rotate(-90 468.30 228.60)" stroke="#fff" stroke-width="0.15" paint-order="fill stroke">0</text>
<text x="468.30" y="428.40" font-family='"Liberation Sans", sans-serif' font-size="14.4" font-weight="bold" font-style="normal" fill="#000" text-anchor="middle" textLength="7.60" lengthAdjust="spacingAndGlyphs" transform="rotate(-90 468.30 428.40)" stroke="#fff" stroke-width="0.15" paint-order="fill stroke">0</text>
<text x="468.30" y="394.10" font-family='"Liberation Sans", sans-serif' font-size="14.4" font-weight="bold" font-style="normal" fill="#000" text-anchor="middle" textLength="27.00" lengthAdjust="spacingAndGlyphs" transform="rotate(-90 468.30 394.10)" stroke="#fff" stroke-width="0.15" paint-order="fill stroke">0.01</text>
<text x="468.30" y="359.80" font-family='"Liberation Sans", sans-serif' font-size="14.4" font-weight="bold" font-style="normal" fill="#000" text-anchor="middle" textLength="27.00" lengthAdjust="spacingAndGlyphs" transform="rotate(-90 468.30 359.80)" stroke="#fff" stroke-width="0.15" paint-order="fill stroke">0.02</text>
<text x="468.30" y="325.50" font-family='"Liberation Sans", sans-serif' font-size="14.4" font-weight="bold" font-style="normal" fill="#000" text-anchor="middle" textLength="27.00" lengthAdjust="spacingAndGlyphs" transform="rotate(-90 468.30 325.50)" stroke="#fff" stroke-width="0.15" paint-order="fill stroke">0.03</text>
<text x="468.30" y="291.20" font-family='"Liberation Sans", sans-serif' font-size="14.4" font-weight="bold" font-style="normal" fill="#000" text-anchor="middle" textLength="27.00" lengthAdjust="spacingAndGlyphs" transform="rotate(-90 468.30 291.20)" stroke="#fff" stroke-width="0.15" paint-order="fill stroke">0.04</text>
<text x="571.40" y="258.40" font-family='"Liberation Serif", serif' font-size="14.5" font-weight="normal" font-style="italic" fill="#000" textLength="9.80" lengthAdjust="spacingAndGlyphs" stroke="#000" stroke-width="0.5">H</text>
<text x="581.90" y="262.60" font-family='"Liberation Serif", serif' font-size="11" font-weight="bold" font-style="normal" fill="#000" textLength="35.70" lengthAdjust="spacingAndGlyphs" >excess</text>
<text x="625.50" y="258.40" font-family='"Liberation Serif", serif' font-size="15" font-weight="normal" font-style="normal" fill="#000" textLength="41.30" lengthAdjust="spacingAndGlyphs" stroke="#000" stroke-width="0.6">(mag)</text>
<text x="583.10" y="461.00" font-family='"Liberation Serif", serif' font-size="14.5" font-weight="normal" font-style="italic" fill="#000" textLength="11.40" lengthAdjust="spacingAndGlyphs" stroke="#000" stroke-width="0.5">H</text>
<text x="595.40" y="464.80" font-family='"Liberation Serif", serif' font-size="11" font-weight="bold" font-style="italic" fill="#000" textLength="3.60" lengthAdjust="spacingAndGlyphs" >i</text>
<text x="605.70" y="461.00" font-family='"Liberation Serif", serif' font-size="15" font-weight="normal" font-style="normal" fill="#000" textLength="41.30" lengthAdjust="spacingAndGlyphs" stroke="#000" stroke-width="0.6">(mag)</text>
<text x="449.80" y="188.30" font-family='"Liberation Serif", serif' font-size="14" font-weight="normal" font-style="italic" fill="#000" textLength="17.00" lengthAdjust="spacingAndGlyphs" transform="rotate(-90 449.80 188.30)" stroke="#000" stroke-width="0.5">P(</text>
<text x="449.80" y="170.80" font-family='"Liberation Serif", serif' font-size="14" font-weight="normal" font-style="italic" fill="#000" textLength="10.20" lengthAdjust="spacingAndGlyphs" transform="rotate(-90 449.80 170.80)" stroke="#000" stroke-width="0.5">H</text>
<text x="457.40" y="161.00" font-family='"Liberation Sans", sans-serif' font-size="10.2" font-weight="bold" font-style="normal" fill="#000" textLength="35.00" lengthAdjust="spacingAndGlyphs" transform="rotate(-90 457.40 161.00)" >excess</text>
<text x="449.80" y="126.00" font-family='"Liberation Serif", serif' font-size="14" font-weight="normal" font-style="italic" fill="#000" textLength="5.20" lengthAdjust="spacingAndGlyphs" transform="rotate(-90 449.80 126.00)" stroke="#000" stroke-width="0.5">)</text>
<text x="488.20" y="112.10" font-family='"Liberation Serif", serif' font-size="12.2" font-weight="normal" font-style="italic" fill="#000" textLength="10.00" lengthAdjust="spacingAndGlyphs" stroke="#000" stroke-width="0.5">H</text>
<text x="498.60" y="116.40" font-family='"Liberation Sans", sans-serif' font-size="8.8" font-weight="bold" font-style="normal" fill="#000" textLength="29.20" lengthAdjust="spacingAndGlyphs" >excess</text>
<text x="488.60" y="131.50" font-family='"Liberation Serif", serif' font-size="12.5" font-weight="normal" font-style="italic" fill="#5a5a5a" textLength="9.20" lengthAdjust="spacingAndGlyphs" stroke="#5a5a5a" stroke-width="0.15">H</text>
<text x="498.20" y="135.70" font-family='"Liberation Serif", serif' font-size="10.8" font-weight="normal" font-style="normal" fill="#5a5a5a" textLength="28.00" lengthAdjust="spacingAndGlyphs" stroke="#5a5a5a" stroke-width="0.15">ex,obs</text>
<rect x="529.5" y="124.8" width="19.5" height="10.1" fill="#e0e0e0"/>
<text x="626.20" y="113.30" font-family='"Liberation Serif", serif' font-size="12.8" font-weight="normal" font-style="normal" fill="#000" textLength="82.50" lengthAdjust="spacingAndGlyphs" stroke="#000" stroke-width="0.3">Contribution</text>
<text x="714.50" y="113.30" font-family='"Liberation Serif", serif' font-size="12.8" font-weight="normal" font-style="normal" fill="#000" textLength="29.70" lengthAdjust="spacingAndGlyphs" stroke="#000" stroke-width="0.3">from</text>
<text x="715.30" y="128.40" font-family='"Liberation Serif", serif' font-size="11.6" font-weight="bold" font-style="italic" fill="#ff0000" textLength="8.40" lengthAdjust="spacingAndGlyphs" >H</text>
<text x="724.30" y="132.20" font-family='"Liberation Sans", sans-serif' font-size="8.6" font-weight="bold" font-style="italic" fill="#ff0000" textLength="4.80" lengthAdjust="spacingAndGlyphs" >L</text>
<text x="715.30" y="144.70" font-family='"Liberation Serif", serif' font-size="11.6" font-weight="bold" font-style="italic" fill="#1c98d8" textLength="8.40" lengthAdjust="spacingAndGlyphs" >H</text>
<text x="724.50" y="148.50" font-family='"Liberation Serif", serif' font-size="9.5" font-weight="bold" font-style="normal" fill="#1c98d8" textLength="18.50" lengthAdjust="spacingAndGlyphs" >amb</text>
<text x="715.30" y="161.50" font-family='"Liberation Serif", serif' font-size="11.6" font-weight="bold" font-style="italic" fill="#1fcc1f" textLength="8.40" lengthAdjust="spacingAndGlyphs" >H</text>
<text x="724.30" y="165.30" font-family='"Liberation Sans", sans-serif' font-size="8.6" font-weight="bold" font-style="italic" fill="#1fcc1f" textLength="11.00" lengthAdjust="spacingAndGlyphs" >SC</text>
<text x="715.30" y="177.20" font-family='"Liberation Serif", serif' font-size="11.6" font-weight="bold" font-style="italic" fill="#b48cff" textLength="8.40" lengthAdjust="spacingAndGlyphs" >H</text>
<text x="724.30" y="181.00" font-family='"Liberation Sans", sans-serif' font-size="8.6" font-weight="bold" font-style="italic" fill="#b48cff" textLength="10.50" lengthAdjust="spacingAndGlyphs" >LC</text>
<text x="488.20" y="286.50" font-family='"Liberation Serif", serif' font-size="11.2" font-weight="normal" font-style="italic" fill="#ff0000" textLength="7.80" lengthAdjust="spacingAndGlyphs" stroke="#ff0000" stroke-width="0.45">H</text>
<text x="497.00" y="289.40" font-family='"Liberation Sans", sans-serif' font-size="8.4" font-weight="bold" font-style="italic" fill="#ff0000" textLength="4.20" lengthAdjust="spacingAndGlyphs" >L</text>
<text x="508.00" y="286.50" font-family='"Liberation Sans", sans-serif' font-size="10.8" font-weight="normal" font-style="normal" fill="#ff0000" textLength="3.00" lengthAdjust="spacingAndGlyphs" stroke="#ff0000" stroke-width="0.35">(</text>
<text x="511.50" y="286.50" font-family='"Liberation Serif", serif' font-size="11.2" font-weight="normal" font-style="italic" fill="#ff0000" textLength="7.20" lengthAdjust="spacingAndGlyphs" stroke="#ff0000" stroke-width="0.45">P</text>
<text x="519.30" y="289.40" font-family='"Liberation Serif", serif' font-size="8.0" font-weight="bold" font-style="normal" fill="#ff0000" textLength="19.30" lengthAdjust="spacingAndGlyphs" >exist</text>
<text x="539.30" y="286.50" font-family='"Liberation Sans", sans-serif' font-size="10.8" font-weight="normal" font-style="normal" fill="#ff0000" textLength="6.80" lengthAdjust="spacingAndGlyphs" stroke="#ff0000" stroke-width="0.35">=</text>
<text x="546.80" y="286.50" font-family='"Liberation Sans", sans-serif' font-size="10.8" font-weight="normal" font-style="normal" fill="#ff0000" textLength="22.60" lengthAdjust="spacingAndGlyphs" stroke="#ff0000" stroke-width="0.35">1.00</text>
<text x="570.40" y="286.50" font-family='"Liberation Sans", sans-serif' font-size="10.8" font-weight="normal" font-style="normal" fill="#ff0000" textLength="3.00" lengthAdjust="spacingAndGlyphs" stroke="#ff0000" stroke-width="0.35">)</text>
<text x="488.20" y="302.30" font-family='"Liberation Serif", serif' font-size="11.2" font-weight="normal" font-style="italic" fill="#1c98d8" textLength="7.80" lengthAdjust="spacingAndGlyphs" stroke="#1c98d8" stroke-width="0.45">H</text>
<text x="497.00" y="305.50" font-family='"Liberation Serif", serif' font-size="8.2" font-weight="bold" font-style="normal" fill="#1c98d8" textLength="17.30" lengthAdjust="spacingAndGlyphs" >amb</text>
<text x="520.60" y="302.30" font-family='"Liberation Sans", sans-serif' font-size="10.8" font-weight="normal" font-style="normal" fill="#1c98d8" textLength="3.00" lengthAdjust="spacingAndGlyphs" stroke="#1c98d8" stroke-width="0.35">(</text>
<text x="524.10" y="302.30" font-family='"Liberation Serif", serif' font-size="11.2" font-weight="normal" font-style="italic" fill="#1c98d8" textLength="7.20" lengthAdjust="spacingAndGlyphs" stroke="#1c98d8" stroke-width="0.45">P</text>
<text x="531.90" y="305.20" font-family='"Liberation Serif", serif' font-size="8.0" font-weight="bold" font-style="normal" fill="#1c98d8" textLength="19.30" lengthAdjust="spacingAndGlyphs" >exist</text>
<text x="551.90" y="302.30" font-family='"Liberation Sans", sans-serif' font-size="10.8" font-weight="normal" font-style="normal" fill="#1c98d8" textLength="6.80" lengthAdjust="spacingAndGlyphs" stroke="#1c98d8" stroke-width="0.35">=</text>
<text x="559.40" y="302.30" font-family='"Liberation Sans", sans-serif' font-size="10.8" font-weight="normal" font-style="normal" fill="#1c98d8" textLength="22.60" lengthAdjust="spacingAndGlyphs" stroke="#1c98d8" stroke-width="0.35">0.26</text>
<text x="583.00" y="302.30" font-family='"Liberation Sans", sans-serif' font-size="10.8" font-weight="normal" font-style="normal" fill="#1c98d8" textLength="3.00" lengthAdjust="spacingAndGlyphs" stroke="#1c98d8" stroke-width="0.35">)</text>
<text x="488.20" y="318.80" font-family='"Liberation Serif", serif' font-size="11.2" font-weight="normal" font-style="italic" fill="#1fcc1f" textLength="7.80" lengthAdjust="spacingAndGlyphs" stroke="#1fcc1f" stroke-width="0.45">H</text>
<text x="497.00" y="321.70" font-family='"Liberation Sans", sans-serif' font-size="8.4" font-weight="bold" font-style="italic" fill="#1fcc1f" textLength="11.00" lengthAdjust="spacingAndGlyphs" >SC</text>
<text x="513.30" y="318.80" font-family='"Liberation Sans", sans-serif' font-size="10.8" font-weight="normal" font-style="normal" fill="#1fcc1f" textLength="3.00" lengthAdjust="spacingAndGlyphs" stroke="#1fcc1f" stroke-width="0.35">(</text>
<text x="516.80" y="318.80" font-family='"Liberation Serif", serif' font-size="11.2" font-weight="normal" font-style="italic" fill="#1fcc1f" textLength="7.20" lengthAdjust="spacingAndGlyphs" stroke="#1fcc1f" stroke-width="0.45">P</text>
<text x="524.60" y="321.70" font-family='"Liberation Serif", serif' font-size="8.0" font-weight="bold" font-style="normal" fill="#1fcc1f" textLength="19.30" lengthAdjust="spacingAndGlyphs" >exist</text>
<text x="544.60" y="318.80" font-family='"Liberation Sans", sans-serif' font-size="10.8" font-weight="normal" font-style="normal" fill="#1fcc1f" textLength="6.80" lengthAdjust="spacingAndGlyphs" stroke="#1fcc1f" stroke-width="0.35">=</text>
<text x="552.10" y="318.80" font-family='"Liberation Sans", sans-serif' font-size="10.8" font-weight="normal" font-style="normal" fill="#1fcc1f" textLength="22.60" lengthAdjust="spacingAndGlyphs" stroke="#1fcc1f" stroke-width="0.35">0.40</text>
<text x="575.70" y="318.80" font-family='"Liberation Sans", sans-serif' font-size="10.8" font-weight="normal" font-style="normal" fill="#1fcc1f" textLength="3.00" lengthAdjust="spacingAndGlyphs" stroke="#1fcc1f" stroke-width="0.35">)</text>
<text x="488.20" y="334.90" font-family='"Liberation Serif", serif' font-size="11.2" font-weight="normal" font-style="italic" fill="#b48cff" textLength="7.80" lengthAdjust="spacingAndGlyphs" stroke="#b48cff" stroke-width="0.45">H</text>
<text x="497.00" y="337.80" font-family='"Liberation Sans", sans-serif' font-size="8.4" font-weight="bold" font-style="italic" fill="#b48cff" textLength="10.00" lengthAdjust="spacingAndGlyphs" >LC</text>
<text x="512.70" y="334.90" font-family='"Liberation Sans", sans-serif' font-size="10.8" font-weight="normal" font-style="normal" fill="#b48cff" textLength="3.00" lengthAdjust="spacingAndGlyphs" stroke="#b48cff" stroke-width="0.35">(</text>
<text x="516.20" y="334.90" font-family='"Liberation Serif", serif' font-size="11.2" font-weight="normal" font-style="italic" fill="#b48cff" textLength="7.20" lengthAdjust="spacingAndGlyphs" stroke="#b48cff" stroke-width="0.45">P</text>
<text x="524.00" y="337.80" font-family='"Liberation Serif", serif' font-size="8.0" font-weight="bold" font-style="normal" fill="#b48cff" textLength="19.30" lengthAdjust="spacingAndGlyphs" >exist</text>
<text x="544.00" y="334.90" font-family='"Liberation Sans", sans-serif' font-size="10.8" font-weight="normal" font-style="normal" fill="#b48cff" textLength="6.80" lengthAdjust="spacingAndGlyphs" stroke="#b48cff" stroke-width="0.35">=</text>
<text x="551.50" y="334.90" font-family='"Liberation Sans", sans-serif' font-size="10.8" font-weight="normal" font-style="normal" fill="#b48cff" textLength="22.60" lengthAdjust="spacingAndGlyphs" stroke="#b48cff" stroke-width="0.35">0.06</text>
<text x="575.10" y="334.90" font-family='"Liberation Sans", sans-serif' font-size="10.8" font-weight="normal" font-style="normal" fill="#b48cff" textLength="3.00" lengthAdjust="spacingAndGlyphs" stroke="#b48cff" stroke-width="0.35">)</text>
<text x="485.70" y="352.80" font-family='"Liberation Serif", serif' font-size="12.5" font-weight="normal" font-style="italic" fill="#5a5a5a" textLength="9.20" lengthAdjust="spacingAndGlyphs" stroke="#5a5a5a" stroke-width="0.15">H</text>
<text x="495.30" y="357.00" font-family='"Liberation Serif", serif' font-size="10.8" font-weight="normal" font-style="normal" fill="#5a5a5a" textLength="28.00" lengthAdjust="spacingAndGlyphs" stroke="#5a5a5a" stroke-width="0.15">ex,obs</text>
<rect x="524.9" y="345.5" width="20.6" height="10.5" fill="#e0e0e0"/>
<text x="449.80" y="360.90" font-family='"Liberation Serif", serif' font-size="14" font-weight="normal" font-style="italic" fill="#000" textLength="14.70" lengthAdjust="spacingAndGlyphs" transform="rotate(-90 449.80 360.90)" stroke="#000" stroke-width="0.5">P(</text>
<text x="449.80" y="345.50" font-family='"Liberation Serif", serif' font-size="14" font-weight="normal" font-style="italic" fill="#000" textLength="10.30" lengthAdjust="spacingAndGlyphs" transform="rotate(-90 449.80 345.50)" stroke="#000" stroke-width="0.5">H</text>
<text x="453.30" y="334.60" font-family='"Liberation Serif", serif' font-size="10.5" font-weight="bold" font-style="italic" fill="#000" textLength="3.80" lengthAdjust="spacingAndGlyphs" transform="rotate(-90 453.30 334.60)" >i</text>
<text x="449.80" y="329.30" font-family='"Liberation Serif", serif' font-size="14" font-weight="normal" font-style="italic" fill="#000" textLength="4.60" lengthAdjust="spacingAndGlyphs" transform="rotate(-90 449.80 329.30)" stroke="#000" stroke-width="0.5">)</text>
</svg></body></html>
